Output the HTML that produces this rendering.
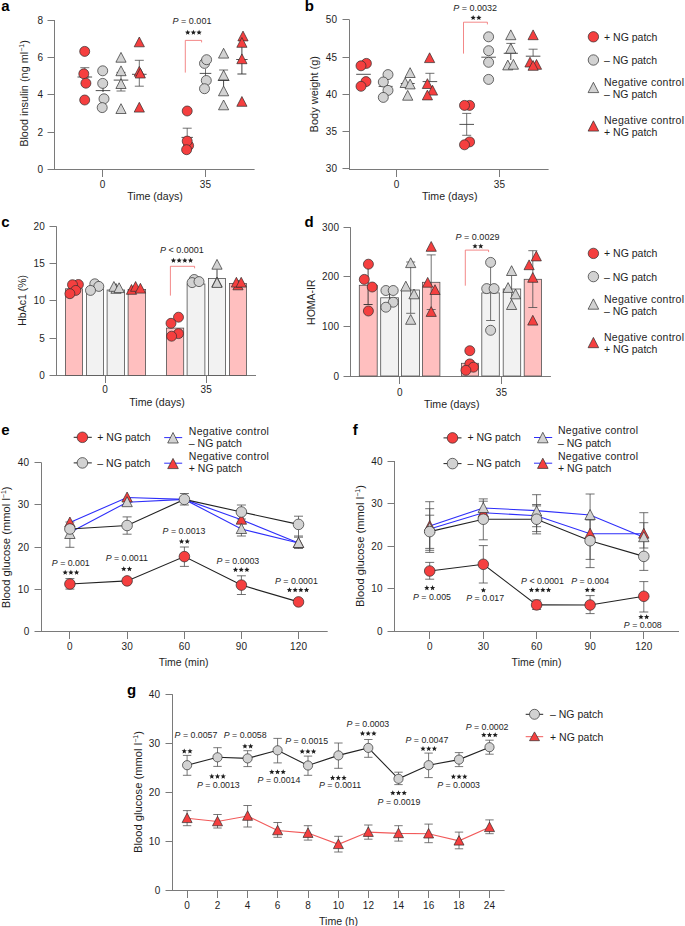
<!DOCTYPE html>
<html><head><meta charset="utf-8"><style>
html,body{margin:0;padding:0;background:#fff;}
svg{display:block;}
</style></head><body>
<svg width="685" height="926" viewBox="0 0 685 926">
<rect width="685" height="926" fill="#fff"/>
<text x="1.2" y="11.2" font-family="Liberation Sans" font-size="15.0" text-anchor="start" fill="#000" font-weight="bold" >a</text>
<line x1="54.5" y1="20.0" x2="54.5" y2="170.0" stroke="#7a7a7a" stroke-width="1.0"/>
<line x1="47.5" y1="20.5" x2="54.5" y2="20.5" stroke="#7a7a7a" stroke-width="1.0"/>
<text x="43.2" y="23.6" font-family="Liberation Sans" font-size="10.0" text-anchor="end" fill="#1e1e1e" font-weight="normal" letter-spacing="0.2">8</text>
<line x1="47.5" y1="57.5" x2="54.5" y2="57.5" stroke="#7a7a7a" stroke-width="1.0"/>
<text x="43.2" y="60.8" font-family="Liberation Sans" font-size="10.0" text-anchor="end" fill="#1e1e1e" font-weight="normal" letter-spacing="0.2">6</text>
<line x1="47.5" y1="94.5" x2="54.5" y2="94.5" stroke="#7a7a7a" stroke-width="1.0"/>
<text x="43.2" y="98.3" font-family="Liberation Sans" font-size="10.0" text-anchor="end" fill="#1e1e1e" font-weight="normal" letter-spacing="0.2">4</text>
<line x1="47.5" y1="132.5" x2="54.5" y2="132.5" stroke="#7a7a7a" stroke-width="1.0"/>
<text x="43.2" y="135.9" font-family="Liberation Sans" font-size="10.0" text-anchor="end" fill="#1e1e1e" font-weight="normal" letter-spacing="0.2">2</text>
<line x1="47.5" y1="169.5" x2="54.5" y2="169.5" stroke="#7a7a7a" stroke-width="1.0"/>
<text x="43.2" y="172.9" font-family="Liberation Sans" font-size="10.0" text-anchor="end" fill="#1e1e1e" font-weight="normal" letter-spacing="0.2">0</text>
<line x1="54.0" y1="169.5" x2="254.6" y2="169.5" stroke="#7a7a7a" stroke-width="1.0"/>
<line x1="102.5" y1="169.5" x2="102.5" y2="177.0" stroke="#7a7a7a" stroke-width="1.0"/>
<text x="102.7" y="188.0" font-family="Liberation Sans" font-size="10.0" text-anchor="middle" fill="#1e1e1e" font-weight="normal" letter-spacing="0.2">0</text>
<line x1="205.5" y1="169.5" x2="205.5" y2="177.0" stroke="#7a7a7a" stroke-width="1.0"/>
<text x="205.5" y="188.0" font-family="Liberation Sans" font-size="10.0" text-anchor="middle" fill="#1e1e1e" font-weight="normal" letter-spacing="0.2">35</text>
<text x="155.0" y="200.0" font-family="Liberation Sans" font-size="10.6" text-anchor="middle" fill="#1e1e1e" font-weight="normal" >Time (days)</text>
<text transform="translate(28.3,93.5) rotate(-90)" font-family="Liberation Sans" font-size="10.9" text-anchor="middle" fill="#1e1e1e">Blood insulin (ng ml<tspan font-size='7' dy='-4'>−1</tspan><tspan dy='4'>)</tspan></text>
<line x1="84.8" y1="67.7" x2="84.8" y2="77.0" stroke="#4d4d4d" stroke-width="0.8"/>
<line x1="80.3" y1="67.7" x2="89.3" y2="67.7" stroke="#4d4d4d" stroke-width="0.8"/>
<line x1="80.3" y1="77.0" x2="89.3" y2="77.0" stroke="#4d4d4d" stroke-width="0.8"/>
<line x1="77.5" y1="77.0" x2="92.1" y2="77.0" stroke="#3d3d3d" stroke-width="0.9"/>
<circle cx="84.7" cy="51.4" r="5.0" fill="#f53f3f" stroke="#2e2e2e" stroke-width="0.7"/>
<circle cx="84.7" cy="100.0" r="5.0" fill="#f53f3f" stroke="#2e2e2e" stroke-width="0.7"/>
<circle cx="83.8" cy="73.8" r="5.0" fill="#f53f3f" stroke="#2e2e2e" stroke-width="0.7"/>
<circle cx="85.9" cy="83.2" r="5.0" fill="#f53f3f" stroke="#2e2e2e" stroke-width="0.7"/>
<line x1="95.7" y1="90.6" x2="110.3" y2="90.6" stroke="#3d3d3d" stroke-width="0.9"/>
<line x1="103.0" y1="88.0" x2="103.0" y2="92.0" stroke="#2e2e2e" stroke-width="0.9"/>
<circle cx="102.7" cy="70.8" r="5.0" fill="#d2d2d2" stroke="#2e2e2e" stroke-width="0.7"/>
<circle cx="102.7" cy="83.4" r="5.0" fill="#d2d2d2" stroke="#2e2e2e" stroke-width="0.7"/>
<circle cx="104.0" cy="98.8" r="5.0" fill="#d2d2d2" stroke="#2e2e2e" stroke-width="0.7"/>
<circle cx="102.2" cy="107.6" r="5.0" fill="#d2d2d2" stroke="#2e2e2e" stroke-width="0.7"/>
<line x1="121.0" y1="72.4" x2="121.0" y2="91.0" stroke="#4d4d4d" stroke-width="0.8"/>
<line x1="116.5" y1="72.4" x2="125.5" y2="72.4" stroke="#4d4d4d" stroke-width="0.8"/>
<line x1="116.5" y1="91.0" x2="125.5" y2="91.0" stroke="#4d4d4d" stroke-width="0.8"/>
<line x1="113.7" y1="80.1" x2="128.3" y2="80.1" stroke="#3d3d3d" stroke-width="0.9"/>
<polygon points="121.0,52.4 115.9,62.2 126.1,62.2" fill="#d2d2d2" stroke="#2e2e2e" stroke-width="0.7" stroke-linejoin="miter"/>
<polygon points="121.0,65.9 115.9,75.7 126.1,75.7" fill="#d2d2d2" stroke="#2e2e2e" stroke-width="0.7" stroke-linejoin="miter"/>
<polygon points="121.0,78.7 115.9,88.5 126.1,88.5" fill="#d2d2d2" stroke="#2e2e2e" stroke-width="0.7" stroke-linejoin="miter"/>
<polygon points="121.0,103.7 115.9,113.5 126.1,113.5" fill="#d2d2d2" stroke="#2e2e2e" stroke-width="0.7" stroke-linejoin="miter"/>
<line x1="139.3" y1="60.3" x2="139.3" y2="86.2" stroke="#4d4d4d" stroke-width="0.8"/>
<line x1="134.8" y1="60.3" x2="143.8" y2="60.3" stroke="#4d4d4d" stroke-width="0.8"/>
<line x1="134.8" y1="86.2" x2="143.8" y2="86.2" stroke="#4d4d4d" stroke-width="0.8"/>
<line x1="132.0" y1="74.3" x2="146.6" y2="74.3" stroke="#3d3d3d" stroke-width="0.9"/>
<polygon points="139.3,37.0 134.2,46.8 144.4,46.8" fill="#f53f3f" stroke="#2e2e2e" stroke-width="0.7" stroke-linejoin="miter"/>
<polygon points="139.3,66.4 134.2,76.2 144.4,76.2" fill="#f53f3f" stroke="#2e2e2e" stroke-width="0.7" stroke-linejoin="miter"/>
<polygon points="140.3,68.2 135.2,78.0 145.4,78.0" fill="#f53f3f" stroke="#2e2e2e" stroke-width="0.7" stroke-linejoin="miter"/>
<polygon points="139.3,102.3 134.2,112.1 144.4,112.1" fill="#f53f3f" stroke="#2e2e2e" stroke-width="0.7" stroke-linejoin="miter"/>
<line x1="187.2" y1="137.4" x2="187.2" y2="128.2" stroke="#4d4d4d" stroke-width="0.8"/>
<line x1="182.7" y1="128.2" x2="191.7" y2="128.2" stroke="#4d4d4d" stroke-width="0.8"/>
<line x1="181.5" y1="137.4" x2="192.9" y2="137.4" stroke="#3d3d3d" stroke-width="0.9"/>
<circle cx="187.2" cy="111.0" r="5.0" fill="#f53f3f" stroke="#2e2e2e" stroke-width="0.7"/>
<circle cx="188.6" cy="145.6" r="5.0" fill="#f53f3f" stroke="#2e2e2e" stroke-width="0.7"/>
<circle cx="187.2" cy="141.1" r="5.0" fill="#f53f3f" stroke="#2e2e2e" stroke-width="0.7"/>
<circle cx="186.6" cy="149.7" r="5.0" fill="#f53f3f" stroke="#2e2e2e" stroke-width="0.7"/>
<line x1="205.5" y1="69.0" x2="205.5" y2="77.0" stroke="#4d4d4d" stroke-width="0.8"/>
<line x1="205.5" y1="69.0" x2="205.5" y2="69.0" stroke="#4d4d4d" stroke-width="0.8"/>
<line x1="205.5" y1="77.0" x2="205.5" y2="77.0" stroke="#4d4d4d" stroke-width="0.8"/>
<line x1="199.7" y1="73.4" x2="211.3" y2="73.4" stroke="#3d3d3d" stroke-width="0.9"/>
<circle cx="204.5" cy="63.4" r="5.0" fill="#d2d2d2" stroke="#2e2e2e" stroke-width="0.7"/>
<circle cx="206.6" cy="59.7" r="5.0" fill="#d2d2d2" stroke="#2e2e2e" stroke-width="0.7"/>
<circle cx="206.3" cy="80.5" r="5.0" fill="#d2d2d2" stroke="#2e2e2e" stroke-width="0.7"/>
<circle cx="204.5" cy="88.7" r="5.0" fill="#d2d2d2" stroke="#2e2e2e" stroke-width="0.7"/>
<line x1="223.6" y1="80.5" x2="223.6" y2="70.0" stroke="#4d4d4d" stroke-width="0.8"/>
<line x1="219.1" y1="70.0" x2="228.1" y2="70.0" stroke="#4d4d4d" stroke-width="0.8"/>
<line x1="217.8" y1="80.5" x2="229.4" y2="80.5" stroke="#3d3d3d" stroke-width="0.9"/>
<line x1="223.6" y1="80.5" x2="223.6" y2="86.0" stroke="#2e2e2e" stroke-width="0.9"/>
<polygon points="223.6,48.3 218.5,58.1 228.7,58.1" fill="#d2d2d2" stroke="#2e2e2e" stroke-width="0.7" stroke-linejoin="miter"/>
<polygon points="223.6,70.2 218.5,80.0 228.7,80.0" fill="#d2d2d2" stroke="#2e2e2e" stroke-width="0.7" stroke-linejoin="miter"/>
<polygon points="223.6,86.0 218.5,95.8 228.7,95.8" fill="#d2d2d2" stroke="#2e2e2e" stroke-width="0.7" stroke-linejoin="miter"/>
<polygon points="223.6,100.0 218.5,109.8 228.7,109.8" fill="#d2d2d2" stroke="#2e2e2e" stroke-width="0.7" stroke-linejoin="miter"/>
<line x1="241.9" y1="47.1" x2="241.9" y2="74.0" stroke="#2e2e2e" stroke-width="0.9"/>
<line x1="237.4" y1="74.0" x2="246.4" y2="74.0" stroke="#2e2e2e" stroke-width="0.9"/>
<line x1="236.2" y1="59.5" x2="247.6" y2="59.5" stroke="#3d3d3d" stroke-width="0.9"/>
<polygon points="243.0,31.1 237.9,40.9 248.1,40.9" fill="#f53f3f" stroke="#2e2e2e" stroke-width="0.7" stroke-linejoin="miter"/>
<polygon points="241.9,37.5 236.8,47.3 247.0,47.3" fill="#f53f3f" stroke="#2e2e2e" stroke-width="0.7" stroke-linejoin="miter"/>
<polygon points="241.9,53.9 236.8,63.7 247.0,63.7" fill="#f53f3f" stroke="#2e2e2e" stroke-width="0.7" stroke-linejoin="miter"/>
<polygon points="241.9,96.5 236.8,106.3 247.0,106.3" fill="#f53f3f" stroke="#2e2e2e" stroke-width="0.7" stroke-linejoin="miter"/>
<polyline points="185.3,72.6 185.3,40.4 201.6,40.4 201.6,42.4" fill="none" stroke="#f06a6a" stroke-width="0.8"/>
<polygon points="187.70,29.80 188.43,31.59 190.36,31.73 188.89,32.99 189.35,34.87 187.70,33.85 186.05,34.87 186.51,32.99 185.04,31.73 186.97,31.59" fill="#1e1e1e"/>
<polygon points="193.40,29.80 194.13,31.59 196.06,31.73 194.59,32.99 195.05,34.87 193.40,33.85 191.75,34.87 192.21,32.99 190.74,31.73 192.67,31.59" fill="#1e1e1e"/>
<polygon points="199.10,29.80 199.83,31.59 201.76,31.73 200.29,32.99 200.75,34.87 199.10,33.85 197.45,34.87 197.91,32.99 196.44,31.73 198.37,31.59" fill="#1e1e1e"/>
<text x="192.0" y="24.0" font-family="Liberation Sans" font-size="9.0" text-anchor="middle" fill="#1e1e1e"><tspan font-style="italic">P</tspan> = 0.001</text>
<text x="304.8" y="11.3" font-family="Liberation Sans" font-size="15.0" text-anchor="start" fill="#000" font-weight="bold" >b</text>
<line x1="349.5" y1="19.7" x2="349.5" y2="170.0" stroke="#7a7a7a" stroke-width="1.0"/>
<line x1="342.5" y1="19.5" x2="349.5" y2="19.5" stroke="#7a7a7a" stroke-width="1.0"/>
<text x="337.4" y="23.2" font-family="Liberation Sans" font-size="10.0" text-anchor="end" fill="#1e1e1e" font-weight="normal" letter-spacing="0.2">50</text>
<line x1="342.5" y1="57.5" x2="349.5" y2="57.5" stroke="#7a7a7a" stroke-width="1.0"/>
<text x="337.4" y="60.5" font-family="Liberation Sans" font-size="10.0" text-anchor="end" fill="#1e1e1e" font-weight="normal" letter-spacing="0.2">45</text>
<line x1="342.5" y1="94.5" x2="349.5" y2="94.5" stroke="#7a7a7a" stroke-width="1.0"/>
<text x="337.4" y="97.5" font-family="Liberation Sans" font-size="10.0" text-anchor="end" fill="#1e1e1e" font-weight="normal" letter-spacing="0.2">40</text>
<line x1="342.5" y1="131.5" x2="349.5" y2="131.5" stroke="#7a7a7a" stroke-width="1.0"/>
<text x="337.4" y="134.9" font-family="Liberation Sans" font-size="10.0" text-anchor="end" fill="#1e1e1e" font-weight="normal" letter-spacing="0.2">35</text>
<line x1="342.5" y1="168.5" x2="349.5" y2="168.5" stroke="#7a7a7a" stroke-width="1.0"/>
<text x="337.4" y="172.3" font-family="Liberation Sans" font-size="10.0" text-anchor="end" fill="#1e1e1e" font-weight="normal" letter-spacing="0.2">30</text>
<line x1="349.0" y1="169.5" x2="548.6" y2="169.5" stroke="#7a7a7a" stroke-width="1.0"/>
<line x1="396.5" y1="169.5" x2="396.5" y2="177.0" stroke="#7a7a7a" stroke-width="1.0"/>
<text x="396.7" y="187.5" font-family="Liberation Sans" font-size="10.0" text-anchor="middle" fill="#1e1e1e" font-weight="normal" letter-spacing="0.2">0</text>
<line x1="499.5" y1="169.5" x2="499.5" y2="177.0" stroke="#7a7a7a" stroke-width="1.0"/>
<text x="499.4" y="187.5" font-family="Liberation Sans" font-size="10.0" text-anchor="middle" fill="#1e1e1e" font-weight="normal" letter-spacing="0.2">35</text>
<text x="449.7" y="200.0" font-family="Liberation Sans" font-size="10.6" text-anchor="middle" fill="#1e1e1e" font-weight="normal" >Time (days)</text>
<text transform="translate(318.0,94.2) rotate(-90)" font-family="Liberation Sans" font-size="11.0" text-anchor="middle" fill="#1e1e1e">Body weight (g)</text>
<line x1="356.2" y1="74.3" x2="370.8" y2="74.3" stroke="#3d3d3d" stroke-width="0.9"/>
<circle cx="366.4" cy="63.4" r="5.0" fill="#f53f3f" stroke="#2e2e2e" stroke-width="0.7"/>
<circle cx="361.0" cy="65.8" r="5.0" fill="#f53f3f" stroke="#2e2e2e" stroke-width="0.7"/>
<circle cx="366.0" cy="81.6" r="5.0" fill="#f53f3f" stroke="#2e2e2e" stroke-width="0.7"/>
<circle cx="361.0" cy="86.3" r="5.0" fill="#f53f3f" stroke="#2e2e2e" stroke-width="0.7"/>
<line x1="378.6" y1="86.4" x2="392.6" y2="86.4" stroke="#3d3d3d" stroke-width="0.9"/>
<circle cx="388.0" cy="74.6" r="5.0" fill="#d2d2d2" stroke="#2e2e2e" stroke-width="0.7"/>
<circle cx="383.3" cy="82.0" r="5.0" fill="#d2d2d2" stroke="#2e2e2e" stroke-width="0.7"/>
<circle cx="388.0" cy="90.4" r="5.0" fill="#d2d2d2" stroke="#2e2e2e" stroke-width="0.7"/>
<circle cx="383.3" cy="97.4" r="5.0" fill="#d2d2d2" stroke="#2e2e2e" stroke-width="0.7"/>
<line x1="400.7" y1="83.5" x2="414.7" y2="83.5" stroke="#3d3d3d" stroke-width="0.9"/>
<polygon points="410.1,67.7 405.0,77.5 415.2,77.5" fill="#d2d2d2" stroke="#2e2e2e" stroke-width="0.7" stroke-linejoin="miter"/>
<polygon points="405.2,77.7 400.1,87.5 410.3,87.5" fill="#d2d2d2" stroke="#2e2e2e" stroke-width="0.7" stroke-linejoin="miter"/>
<polygon points="410.1,79.1 405.0,88.9 415.2,88.9" fill="#d2d2d2" stroke="#2e2e2e" stroke-width="0.7" stroke-linejoin="miter"/>
<polygon points="407.7,90.4 402.6,100.2 412.8,100.2" fill="#d2d2d2" stroke="#2e2e2e" stroke-width="0.7" stroke-linejoin="miter"/>
<line x1="429.9" y1="81.6" x2="429.9" y2="73.3" stroke="#4d4d4d" stroke-width="0.8"/>
<line x1="425.4" y1="73.3" x2="434.4" y2="73.3" stroke="#4d4d4d" stroke-width="0.8"/>
<line x1="422.6" y1="81.6" x2="437.2" y2="81.6" stroke="#3d3d3d" stroke-width="0.9"/>
<polygon points="429.6,52.8 424.5,62.6 434.7,62.6" fill="#f53f3f" stroke="#2e2e2e" stroke-width="0.7" stroke-linejoin="miter"/>
<polygon points="427.4,78.7 422.3,88.5 432.5,88.5" fill="#f53f3f" stroke="#2e2e2e" stroke-width="0.7" stroke-linejoin="miter"/>
<polygon points="432.5,85.3 427.4,95.1 437.6,95.1" fill="#f53f3f" stroke="#2e2e2e" stroke-width="0.7" stroke-linejoin="miter"/>
<polygon points="427.4,90.1 422.3,99.9 432.5,99.9" fill="#f53f3f" stroke="#2e2e2e" stroke-width="0.7" stroke-linejoin="miter"/>
<line x1="466.7" y1="113.4" x2="466.7" y2="135.3" stroke="#4d4d4d" stroke-width="0.8"/>
<line x1="462.2" y1="113.4" x2="471.2" y2="113.4" stroke="#4d4d4d" stroke-width="0.8"/>
<line x1="462.2" y1="135.3" x2="471.2" y2="135.3" stroke="#4d4d4d" stroke-width="0.8"/>
<line x1="459.4" y1="124.4" x2="474.0" y2="124.4" stroke="#3d3d3d" stroke-width="0.9"/>
<circle cx="469.6" cy="105.4" r="5.0" fill="#f53f3f" stroke="#2e2e2e" stroke-width="0.7"/>
<circle cx="464.5" cy="105.4" r="5.0" fill="#f53f3f" stroke="#2e2e2e" stroke-width="0.7"/>
<circle cx="469.6" cy="141.9" r="5.0" fill="#f53f3f" stroke="#2e2e2e" stroke-width="0.7"/>
<circle cx="464.5" cy="144.8" r="5.0" fill="#f53f3f" stroke="#2e2e2e" stroke-width="0.7"/>
<line x1="481.3" y1="57.2" x2="495.9" y2="57.2" stroke="#3d3d3d" stroke-width="0.9"/>
<circle cx="488.6" cy="36.8" r="5.0" fill="#d2d2d2" stroke="#2e2e2e" stroke-width="0.7"/>
<circle cx="488.6" cy="50.7" r="5.0" fill="#d2d2d2" stroke="#2e2e2e" stroke-width="0.7"/>
<circle cx="488.6" cy="62.3" r="5.0" fill="#d2d2d2" stroke="#2e2e2e" stroke-width="0.7"/>
<circle cx="488.6" cy="79.4" r="5.0" fill="#d2d2d2" stroke="#2e2e2e" stroke-width="0.7"/>
<line x1="510.8" y1="53.3" x2="510.8" y2="43.4" stroke="#4d4d4d" stroke-width="0.8"/>
<line x1="506.3" y1="43.4" x2="515.3" y2="43.4" stroke="#4d4d4d" stroke-width="0.8"/>
<line x1="510.8" y1="53.3" x2="510.8" y2="60.0" stroke="#2e2e2e" stroke-width="0.9"/>
<line x1="503.7" y1="53.3" x2="517.9" y2="53.3" stroke="#3d3d3d" stroke-width="0.9"/>
<polygon points="510.8,29.9 505.7,39.7 515.9,39.7" fill="#d2d2d2" stroke="#2e2e2e" stroke-width="0.7" stroke-linejoin="miter"/>
<polygon points="510.8,43.4 505.7,53.2 515.9,53.2" fill="#d2d2d2" stroke="#2e2e2e" stroke-width="0.7" stroke-linejoin="miter"/>
<polygon points="507.8,60.1 502.7,69.9 512.9,69.9" fill="#d2d2d2" stroke="#2e2e2e" stroke-width="0.7" stroke-linejoin="miter"/>
<polygon points="513.4,59.4 508.3,69.2 518.5,69.2" fill="#d2d2d2" stroke="#2e2e2e" stroke-width="0.7" stroke-linejoin="miter"/>
<line x1="533.1" y1="56.2" x2="533.1" y2="49.2" stroke="#4d4d4d" stroke-width="0.8"/>
<line x1="528.6" y1="49.2" x2="537.6" y2="49.2" stroke="#4d4d4d" stroke-width="0.8"/>
<line x1="525.8" y1="56.2" x2="540.4" y2="56.2" stroke="#3d3d3d" stroke-width="0.9"/>
<polygon points="533.1,29.9 528.0,39.7 538.2,39.7" fill="#f53f3f" stroke="#2e2e2e" stroke-width="0.7" stroke-linejoin="miter"/>
<polygon points="530.0,57.2 524.9,67.0 535.1,67.0" fill="#f53f3f" stroke="#2e2e2e" stroke-width="0.7" stroke-linejoin="miter"/>
<polygon points="536.5,59.5 531.4,69.3 541.6,69.3" fill="#f53f3f" stroke="#2e2e2e" stroke-width="0.7" stroke-linejoin="miter"/>
<polygon points="533.1,60.5 528.0,70.3 538.2,70.3" fill="#f53f3f" stroke="#2e2e2e" stroke-width="0.7" stroke-linejoin="miter"/>
<polyline points="463.5,53.6 463.5,22.2 487.4,22.2 487.4,24.4" fill="none" stroke="#f06a6a" stroke-width="0.8"/>
<polygon points="473.15,15.00 473.88,16.79 475.81,16.93 474.34,18.19 474.80,20.07 473.15,19.05 471.50,20.07 471.96,18.19 470.49,16.93 472.42,16.79" fill="#1e1e1e"/>
<polygon points="478.85,15.00 479.58,16.79 481.51,16.93 480.04,18.19 480.50,20.07 478.85,19.05 477.20,20.07 477.66,18.19 476.19,16.93 478.12,16.79" fill="#1e1e1e"/>
<text x="475.2" y="10.8" font-family="Liberation Sans" font-size="9.0" text-anchor="middle" fill="#1e1e1e"><tspan font-style="italic">P</tspan> = 0.0032</text>
<circle cx="593.4" cy="36.8" r="5.2" fill="#f53f3f" stroke="#2e2e2e" stroke-width="0.7"/>
<text x="604.0" y="40.6" font-family="Liberation Sans" font-size="10.5" text-anchor="start" fill="#1e1e1e" font-weight="normal" >+ NG patch</text>
<circle cx="593.4" cy="60.0" r="5.2" fill="#d2d2d2" stroke="#2e2e2e" stroke-width="0.7"/>
<text x="604.0" y="64.0" font-family="Liberation Sans" font-size="10.5" text-anchor="start" fill="#1e1e1e" font-weight="normal" >– NG patch</text>
<polygon points="593.4,82.3 588.1,92.6 598.7,92.6" fill="#d2d2d2" stroke="#2e2e2e" stroke-width="0.7" stroke-linejoin="miter"/>
<text x="604.0" y="86.0" font-family="Liberation Sans" font-size="10.5" text-anchor="start" fill="#1e1e1e" font-weight="normal"  letter-spacing="0.28">Negative control</text>
<text x="604.0" y="98.0" font-family="Liberation Sans" font-size="10.5" text-anchor="start" fill="#1e1e1e" font-weight="normal" >– NG patch</text>
<polygon points="593.4,120.8 588.1,131.1 598.7,131.1" fill="#f53f3f" stroke="#2e2e2e" stroke-width="0.7" stroke-linejoin="miter"/>
<text x="604.0" y="124.4" font-family="Liberation Sans" font-size="10.5" text-anchor="start" fill="#1e1e1e" font-weight="normal"  letter-spacing="0.28">Negative control</text>
<text x="604.0" y="136.4" font-family="Liberation Sans" font-size="10.5" text-anchor="start" fill="#1e1e1e" font-weight="normal" >+ NG patch</text>
<text x="1.2" y="227.2" font-family="Liberation Sans" font-size="15.0" text-anchor="start" fill="#000" font-weight="bold" >c</text>
<line x1="56.5" y1="226.3" x2="56.5" y2="376.0" stroke="#7a7a7a" stroke-width="1.0"/>
<line x1="49.5" y1="226.5" x2="56.5" y2="226.5" stroke="#7a7a7a" stroke-width="1.0"/>
<text x="45.0" y="229.8" font-family="Liberation Sans" font-size="10.0" text-anchor="end" fill="#1e1e1e" font-weight="normal" letter-spacing="0.2">20</text>
<line x1="49.5" y1="263.5" x2="56.5" y2="263.5" stroke="#7a7a7a" stroke-width="1.0"/>
<text x="45.0" y="267.1" font-family="Liberation Sans" font-size="10.0" text-anchor="end" fill="#1e1e1e" font-weight="normal" letter-spacing="0.2">15</text>
<line x1="49.5" y1="300.5" x2="56.5" y2="300.5" stroke="#7a7a7a" stroke-width="1.0"/>
<text x="45.0" y="304.3" font-family="Liberation Sans" font-size="10.0" text-anchor="end" fill="#1e1e1e" font-weight="normal" letter-spacing="0.2">10</text>
<line x1="49.5" y1="338.5" x2="56.5" y2="338.5" stroke="#7a7a7a" stroke-width="1.0"/>
<text x="45.0" y="341.6" font-family="Liberation Sans" font-size="10.0" text-anchor="end" fill="#1e1e1e" font-weight="normal" letter-spacing="0.2">5</text>
<line x1="49.5" y1="375.5" x2="56.5" y2="375.5" stroke="#7a7a7a" stroke-width="1.0"/>
<text x="45.0" y="378.9" font-family="Liberation Sans" font-size="10.0" text-anchor="end" fill="#1e1e1e" font-weight="normal" letter-spacing="0.2">0</text>
<line x1="56.0" y1="375.5" x2="256.0" y2="375.5" stroke="#7a7a7a" stroke-width="1.0"/>
<line x1="105.5" y1="375.5" x2="105.5" y2="383.0" stroke="#7a7a7a" stroke-width="1.0"/>
<text x="105.1" y="393.2" font-family="Liberation Sans" font-size="10.0" text-anchor="middle" fill="#1e1e1e" font-weight="normal" letter-spacing="0.2">0</text>
<line x1="206.5" y1="375.5" x2="206.5" y2="383.0" stroke="#7a7a7a" stroke-width="1.0"/>
<text x="206.3" y="393.2" font-family="Liberation Sans" font-size="10.0" text-anchor="middle" fill="#1e1e1e" font-weight="normal" letter-spacing="0.2">35</text>
<text x="157.0" y="406.3" font-family="Liberation Sans" font-size="10.6" text-anchor="middle" fill="#1e1e1e" font-weight="normal" >Time (days)</text>
<text transform="translate(26.0,300.4) rotate(-90)" font-family="Liberation Sans" font-size="10.5" text-anchor="middle" fill="#1e1e1e">HbAc1 (%)</text>
<rect x="65.4" y="288.8" width="17.0" height="86.6" fill="#ffbfbf" stroke="#505050" stroke-width="0.8"/>
<rect x="86.4" y="289.0" width="17.0" height="86.4" fill="#f2f2f2" stroke="#505050" stroke-width="0.8"/>
<rect x="107.1" y="290.0" width="17.5" height="85.4" fill="#f2f2f2" stroke="#505050" stroke-width="0.8"/>
<rect x="128.1" y="289.5" width="17.5" height="85.9" fill="#ffbfbf" stroke="#505050" stroke-width="0.8"/>
<circle cx="78.4" cy="284.5" r="5.0" fill="#f53f3f" stroke="#2e2e2e" stroke-width="0.7"/>
<circle cx="72.5" cy="284.7" r="5.0" fill="#f53f3f" stroke="#2e2e2e" stroke-width="0.7"/>
<circle cx="75.8" cy="290.4" r="5.0" fill="#f53f3f" stroke="#2e2e2e" stroke-width="0.7"/>
<circle cx="69.9" cy="293.7" r="5.0" fill="#f53f3f" stroke="#2e2e2e" stroke-width="0.7"/>
<circle cx="94.8" cy="283.8" r="5.0" fill="#d2d2d2" stroke="#2e2e2e" stroke-width="0.7"/>
<circle cx="98.8" cy="286.4" r="5.0" fill="#d2d2d2" stroke="#2e2e2e" stroke-width="0.7"/>
<circle cx="90.5" cy="290.4" r="5.0" fill="#d2d2d2" stroke="#2e2e2e" stroke-width="0.7"/>
<polygon points="116.0,283.5 110.9,293.3 121.1,293.3" fill="#d2d2d2" stroke="#2e2e2e" stroke-width="0.7" stroke-linejoin="miter"/>
<polygon points="113.9,281.5 108.8,291.3 119.0,291.3" fill="#d2d2d2" stroke="#2e2e2e" stroke-width="0.7" stroke-linejoin="miter"/>
<polygon points="119.1,282.8 114.0,292.6 124.2,292.6" fill="#d2d2d2" stroke="#2e2e2e" stroke-width="0.7" stroke-linejoin="miter"/>
<polygon points="131.5,284.5 126.4,294.3 136.6,294.3" fill="#f53f3f" stroke="#2e2e2e" stroke-width="0.7" stroke-linejoin="miter"/>
<polygon points="135.6,281.5 130.5,291.3 140.7,291.3" fill="#f53f3f" stroke="#2e2e2e" stroke-width="0.7" stroke-linejoin="miter"/>
<polygon points="140.4,283.3 135.3,293.1 145.5,293.1" fill="#f53f3f" stroke="#2e2e2e" stroke-width="0.7" stroke-linejoin="miter"/>
<rect x="166.4" y="328.1" width="17.3" height="47.3" fill="#ffbfbf" stroke="#505050" stroke-width="0.8"/>
<rect x="187.1" y="284.0" width="17.8" height="91.4" fill="#f2f2f2" stroke="#505050" stroke-width="0.8"/>
<rect x="208.4" y="278.4" width="17.2" height="97.0" fill="#f2f2f2" stroke="#505050" stroke-width="0.8"/>
<rect x="229.4" y="283.5" width="17.0" height="91.9" fill="#ffbfbf" stroke="#505050" stroke-width="0.8"/>
<circle cx="178.5" cy="317.2" r="5.0" fill="#f53f3f" stroke="#2e2e2e" stroke-width="0.7"/>
<circle cx="171.0" cy="323.3" r="5.0" fill="#f53f3f" stroke="#2e2e2e" stroke-width="0.7"/>
<circle cx="178.5" cy="333.6" r="5.0" fill="#f53f3f" stroke="#2e2e2e" stroke-width="0.7"/>
<circle cx="171.6" cy="336.2" r="5.0" fill="#f53f3f" stroke="#2e2e2e" stroke-width="0.7"/>
<circle cx="194.2" cy="279.5" r="5.0" fill="#d2d2d2" stroke="#2e2e2e" stroke-width="0.7"/>
<circle cx="192.1" cy="282.6" r="5.0" fill="#d2d2d2" stroke="#2e2e2e" stroke-width="0.7"/>
<circle cx="199.0" cy="281.6" r="5.0" fill="#d2d2d2" stroke="#2e2e2e" stroke-width="0.7"/>
<line x1="217.0" y1="269.4" x2="217.0" y2="278.4" stroke="#2e2e2e" stroke-width="0.9"/>
<polygon points="217.0,259.4 211.9,269.2 222.1,269.2" fill="#d2d2d2" stroke="#2e2e2e" stroke-width="0.7" stroke-linejoin="miter"/>
<polygon points="217.0,277.0 211.9,286.8 222.1,286.8" fill="#d2d2d2" stroke="#2e2e2e" stroke-width="0.7" stroke-linejoin="miter"/>
<polygon points="217.0,277.6 211.9,287.4 222.1,287.4" fill="#d2d2d2" stroke="#2e2e2e" stroke-width="0.7" stroke-linejoin="miter"/>
<polygon points="238.0,280.0 232.9,289.8 243.1,289.8" fill="#f53f3f" stroke="#2e2e2e" stroke-width="0.7" stroke-linejoin="miter"/>
<polygon points="236.4,277.3 231.3,287.1 241.5,287.1" fill="#f53f3f" stroke="#2e2e2e" stroke-width="0.7" stroke-linejoin="miter"/>
<polygon points="241.2,277.3 236.1,287.1 246.3,287.1" fill="#f53f3f" stroke="#2e2e2e" stroke-width="0.7" stroke-linejoin="miter"/>
<polyline points="170.4,295.6 170.4,266.3 194.6,266.3 194.6,268.3" fill="none" stroke="#f06a6a" stroke-width="0.8"/>
<polygon points="173.45,257.70 174.18,259.49 176.11,259.63 174.64,260.89 175.10,262.77 173.45,261.75 171.80,262.77 172.26,260.89 170.79,259.63 172.72,259.49" fill="#1e1e1e"/>
<polygon points="179.15,257.70 179.88,259.49 181.81,259.63 180.34,260.89 180.80,262.77 179.15,261.75 177.50,262.77 177.96,260.89 176.49,259.63 178.42,259.49" fill="#1e1e1e"/>
<polygon points="184.85,257.70 185.58,259.49 187.51,259.63 186.04,260.89 186.50,262.77 184.85,261.75 183.20,262.77 183.66,260.89 182.19,259.63 184.12,259.49" fill="#1e1e1e"/>
<polygon points="190.55,257.70 191.28,259.49 193.21,259.63 191.74,260.89 192.20,262.77 190.55,261.75 188.90,262.77 189.36,260.89 187.89,259.63 189.82,259.49" fill="#1e1e1e"/>
<text x="181.8" y="252.8" font-family="Liberation Sans" font-size="9.0" text-anchor="middle" fill="#1e1e1e"><tspan font-style="italic">P</tspan> &lt; 0.0001</text>
<text x="304.5" y="227.0" font-family="Liberation Sans" font-size="15.0" text-anchor="start" fill="#000" font-weight="bold" >d</text>
<line x1="350.5" y1="227.2" x2="350.5" y2="377.0" stroke="#7a7a7a" stroke-width="1.0"/>
<line x1="343.5" y1="227.5" x2="350.5" y2="227.5" stroke="#7a7a7a" stroke-width="1.0"/>
<text x="339.3" y="230.7" font-family="Liberation Sans" font-size="10.0" text-anchor="end" fill="#1e1e1e" font-weight="normal" letter-spacing="0.2">300</text>
<line x1="343.5" y1="276.5" x2="350.5" y2="276.5" stroke="#7a7a7a" stroke-width="1.0"/>
<text x="339.3" y="280.3" font-family="Liberation Sans" font-size="10.0" text-anchor="end" fill="#1e1e1e" font-weight="normal" letter-spacing="0.2">200</text>
<line x1="343.5" y1="326.5" x2="350.5" y2="326.5" stroke="#7a7a7a" stroke-width="1.0"/>
<text x="339.3" y="329.9" font-family="Liberation Sans" font-size="10.0" text-anchor="end" fill="#1e1e1e" font-weight="normal" letter-spacing="0.2">100</text>
<line x1="343.5" y1="376.5" x2="350.5" y2="376.5" stroke="#7a7a7a" stroke-width="1.0"/>
<text x="339.3" y="379.5" font-family="Liberation Sans" font-size="10.0" text-anchor="end" fill="#1e1e1e" font-weight="normal" letter-spacing="0.2">0</text>
<line x1="350.0" y1="376.5" x2="550.9" y2="376.5" stroke="#7a7a7a" stroke-width="1.0"/>
<line x1="399.5" y1="376.5" x2="399.5" y2="384.0" stroke="#7a7a7a" stroke-width="1.0"/>
<text x="400.0" y="395.5" font-family="Liberation Sans" font-size="10.0" text-anchor="middle" fill="#1e1e1e" font-weight="normal" letter-spacing="0.2">0</text>
<line x1="501.5" y1="376.5" x2="501.5" y2="384.0" stroke="#7a7a7a" stroke-width="1.0"/>
<text x="501.4" y="395.5" font-family="Liberation Sans" font-size="10.0" text-anchor="middle" fill="#1e1e1e" font-weight="normal" letter-spacing="0.2">35</text>
<text x="451.7" y="408.3" font-family="Liberation Sans" font-size="10.6" text-anchor="middle" fill="#1e1e1e" font-weight="normal" >Time (days)</text>
<text transform="translate(314.5,302.2) rotate(-90)" font-family="Liberation Sans" font-size="10.5" text-anchor="middle" fill="#1e1e1e">HOMA-IR</text>
<rect x="359.3" y="285.3" width="17.9" height="90.7" fill="#ffbfbf" stroke="#505050" stroke-width="0.8"/>
<rect x="380.7" y="297.8" width="17.8" height="78.2" fill="#f2f2f2" stroke="#505050" stroke-width="0.8"/>
<rect x="401.4" y="290.0" width="18.1" height="86.0" fill="#f2f2f2" stroke="#505050" stroke-width="0.8"/>
<rect x="422.4" y="282.3" width="17.5" height="93.7" fill="#ffbfbf" stroke="#505050" stroke-width="0.8"/>
<line x1="368.1" y1="266.0" x2="368.1" y2="304.5" stroke="#2e2e2e" stroke-width="0.9"/>
<line x1="363.6" y1="304.5" x2="372.6" y2="304.5" stroke="#2e2e2e" stroke-width="0.9"/>
<circle cx="368.4" cy="264.2" r="5.0" fill="#f53f3f" stroke="#2e2e2e" stroke-width="0.7"/>
<circle cx="364.3" cy="279.4" r="5.0" fill="#f53f3f" stroke="#2e2e2e" stroke-width="0.7"/>
<circle cx="372.2" cy="287.0" r="5.0" fill="#f53f3f" stroke="#2e2e2e" stroke-width="0.7"/>
<circle cx="368.4" cy="311.0" r="5.0" fill="#f53f3f" stroke="#2e2e2e" stroke-width="0.7"/>
<line x1="389.6" y1="290.0" x2="389.6" y2="307.0" stroke="#2e2e2e" stroke-width="0.9"/>
<circle cx="385.9" cy="290.5" r="5.0" fill="#d2d2d2" stroke="#2e2e2e" stroke-width="0.7"/>
<circle cx="393.2" cy="290.5" r="5.0" fill="#d2d2d2" stroke="#2e2e2e" stroke-width="0.7"/>
<circle cx="393.2" cy="302.2" r="5.0" fill="#d2d2d2" stroke="#2e2e2e" stroke-width="0.7"/>
<circle cx="385.9" cy="307.2" r="5.0" fill="#d2d2d2" stroke="#2e2e2e" stroke-width="0.7"/>
<line x1="410.7" y1="262.0" x2="410.7" y2="313.3" stroke="#4d4d4d" stroke-width="0.8"/>
<line x1="406.2" y1="262.0" x2="415.2" y2="262.0" stroke="#4d4d4d" stroke-width="0.8"/>
<line x1="406.2" y1="313.3" x2="415.2" y2="313.3" stroke="#4d4d4d" stroke-width="0.8"/>
<polygon points="410.7,257.8 405.6,267.6 415.8,267.6" fill="#d2d2d2" stroke="#2e2e2e" stroke-width="0.7" stroke-linejoin="miter"/>
<polygon points="405.8,281.2 400.7,291.0 410.9,291.0" fill="#d2d2d2" stroke="#2e2e2e" stroke-width="0.7" stroke-linejoin="miter"/>
<polygon points="414.0,289.0 408.9,298.8 419.1,298.8" fill="#d2d2d2" stroke="#2e2e2e" stroke-width="0.7" stroke-linejoin="miter"/>
<polygon points="410.7,314.5 405.6,324.3 415.8,324.3" fill="#d2d2d2" stroke="#2e2e2e" stroke-width="0.7" stroke-linejoin="miter"/>
<line x1="431.2" y1="254.9" x2="431.2" y2="309.5" stroke="#4d4d4d" stroke-width="0.8"/>
<line x1="426.7" y1="254.9" x2="435.7" y2="254.9" stroke="#4d4d4d" stroke-width="0.8"/>
<line x1="426.7" y1="309.5" x2="435.7" y2="309.5" stroke="#4d4d4d" stroke-width="0.8"/>
<polygon points="431.2,241.5 426.1,251.3 436.3,251.3" fill="#f53f3f" stroke="#2e2e2e" stroke-width="0.7" stroke-linejoin="miter"/>
<polygon points="427.7,277.4 422.6,287.2 432.8,287.2" fill="#f53f3f" stroke="#2e2e2e" stroke-width="0.7" stroke-linejoin="miter"/>
<polygon points="435.0,284.7 429.9,294.5 440.1,294.5" fill="#f53f3f" stroke="#2e2e2e" stroke-width="0.7" stroke-linejoin="miter"/>
<polygon points="431.2,306.6 426.1,316.4 436.3,316.4" fill="#f53f3f" stroke="#2e2e2e" stroke-width="0.7" stroke-linejoin="miter"/>
<rect x="461.4" y="363.3" width="17.1" height="12.7" fill="#ffbfbf" stroke="#505050" stroke-width="0.8"/>
<rect x="481.8" y="292.9" width="17.5" height="83.1" fill="#f2f2f2" stroke="#505050" stroke-width="0.8"/>
<rect x="503.2" y="289.0" width="17.5" height="87.0" fill="#f2f2f2" stroke="#505050" stroke-width="0.8"/>
<rect x="524.2" y="279.3" width="17.3" height="96.7" fill="#ffbfbf" stroke="#505050" stroke-width="0.8"/>
<circle cx="469.8" cy="350.7" r="5.0" fill="#f53f3f" stroke="#2e2e2e" stroke-width="0.7"/>
<circle cx="469.8" cy="363.9" r="5.0" fill="#f53f3f" stroke="#2e2e2e" stroke-width="0.7"/>
<circle cx="473.4" cy="367.2" r="5.0" fill="#f53f3f" stroke="#2e2e2e" stroke-width="0.7"/>
<circle cx="465.9" cy="370.3" r="5.0" fill="#f53f3f" stroke="#2e2e2e" stroke-width="0.7"/>
<line x1="490.6" y1="262.4" x2="490.6" y2="320.5" stroke="#4d4d4d" stroke-width="0.8"/>
<line x1="486.1" y1="262.4" x2="495.1" y2="262.4" stroke="#4d4d4d" stroke-width="0.8"/>
<line x1="486.1" y1="320.5" x2="495.1" y2="320.5" stroke="#4d4d4d" stroke-width="0.8"/>
<circle cx="490.6" cy="262.4" r="5.0" fill="#d2d2d2" stroke="#2e2e2e" stroke-width="0.7"/>
<circle cx="486.7" cy="288.6" r="5.0" fill="#d2d2d2" stroke="#2e2e2e" stroke-width="0.7"/>
<circle cx="494.1" cy="288.6" r="5.0" fill="#d2d2d2" stroke="#2e2e2e" stroke-width="0.7"/>
<circle cx="490.6" cy="330.3" r="5.0" fill="#d2d2d2" stroke="#2e2e2e" stroke-width="0.7"/>
<line x1="511.6" y1="276.0" x2="511.6" y2="300.0" stroke="#4d4d4d" stroke-width="0.8"/>
<line x1="511.6" y1="276.0" x2="511.6" y2="276.0" stroke="#4d4d4d" stroke-width="0.8"/>
<line x1="511.6" y1="300.0" x2="511.6" y2="300.0" stroke="#4d4d4d" stroke-width="0.8"/>
<polygon points="511.6,265.7 506.5,275.5 516.7,275.5" fill="#d2d2d2" stroke="#2e2e2e" stroke-width="0.7" stroke-linejoin="miter"/>
<polygon points="508.1,282.6 503.0,292.4 513.2,292.4" fill="#d2d2d2" stroke="#2e2e2e" stroke-width="0.7" stroke-linejoin="miter"/>
<polygon points="515.5,289.0 510.4,298.8 520.6,298.8" fill="#d2d2d2" stroke="#2e2e2e" stroke-width="0.7" stroke-linejoin="miter"/>
<polygon points="511.6,299.7 506.5,309.5 516.7,309.5" fill="#d2d2d2" stroke="#2e2e2e" stroke-width="0.7" stroke-linejoin="miter"/>
<line x1="532.8" y1="250.7" x2="532.8" y2="307.5" stroke="#4d4d4d" stroke-width="0.8"/>
<line x1="528.3" y1="250.7" x2="537.3" y2="250.7" stroke="#4d4d4d" stroke-width="0.8"/>
<line x1="528.3" y1="307.5" x2="537.3" y2="307.5" stroke="#4d4d4d" stroke-width="0.8"/>
<polygon points="536.3,251.1 531.2,260.9 541.4,260.9" fill="#f53f3f" stroke="#2e2e2e" stroke-width="0.7" stroke-linejoin="miter"/>
<polygon points="529.1,259.9 524.0,269.7 534.2,269.7" fill="#f53f3f" stroke="#2e2e2e" stroke-width="0.7" stroke-linejoin="miter"/>
<polygon points="532.8,272.5 527.7,282.3 537.9,282.3" fill="#f53f3f" stroke="#2e2e2e" stroke-width="0.7" stroke-linejoin="miter"/>
<polygon points="532.8,315.3 527.7,325.1 537.9,325.1" fill="#f53f3f" stroke="#2e2e2e" stroke-width="0.7" stroke-linejoin="miter"/>
<polyline points="465.3,285.7 465.3,250.1 488.6,250.1 488.6,252.1" fill="none" stroke="#f06a6a" stroke-width="0.8"/>
<polygon points="475.05,243.40 475.78,245.19 477.71,245.33 476.24,246.59 476.70,248.47 475.05,247.45 473.40,248.47 473.86,246.59 472.39,245.33 474.32,245.19" fill="#1e1e1e"/>
<polygon points="480.75,243.40 481.48,245.19 483.41,245.33 481.94,246.59 482.40,248.47 480.75,247.45 479.10,248.47 479.56,246.59 478.09,245.33 480.02,245.19" fill="#1e1e1e"/>
<text x="477.5" y="239.8" font-family="Liberation Sans" font-size="9.0" text-anchor="middle" fill="#1e1e1e"><tspan font-style="italic">P</tspan> = 0.0029</text>
<circle cx="593.4" cy="253.4" r="5.2" fill="#f53f3f" stroke="#2e2e2e" stroke-width="0.7"/>
<text x="604.0" y="257.2" font-family="Liberation Sans" font-size="10.5" text-anchor="start" fill="#1e1e1e" font-weight="normal" >+ NG patch</text>
<circle cx="593.4" cy="276.6" r="5.2" fill="#d2d2d2" stroke="#2e2e2e" stroke-width="0.7"/>
<text x="604.0" y="280.6" font-family="Liberation Sans" font-size="10.5" text-anchor="start" fill="#1e1e1e" font-weight="normal" >– NG patch</text>
<polygon points="593.4,298.9 588.1,309.2 598.7,309.2" fill="#d2d2d2" stroke="#2e2e2e" stroke-width="0.7" stroke-linejoin="miter"/>
<text x="604.0" y="302.6" font-family="Liberation Sans" font-size="10.5" text-anchor="start" fill="#1e1e1e" font-weight="normal"  letter-spacing="0.28">Negative control</text>
<text x="604.0" y="314.6" font-family="Liberation Sans" font-size="10.5" text-anchor="start" fill="#1e1e1e" font-weight="normal" >– NG patch</text>
<polygon points="593.4,337.4 588.1,347.7 598.7,347.7" fill="#f53f3f" stroke="#2e2e2e" stroke-width="0.7" stroke-linejoin="miter"/>
<text x="604.0" y="341.0" font-family="Liberation Sans" font-size="10.5" text-anchor="start" fill="#1e1e1e" font-weight="normal"  letter-spacing="0.28">Negative control</text>
<text x="604.0" y="353.0" font-family="Liberation Sans" font-size="10.5" text-anchor="start" fill="#1e1e1e" font-weight="normal" >+ NG patch</text>
<text x="1.2" y="435.1" font-family="Liberation Sans" font-size="15.0" text-anchor="start" fill="#000" font-weight="bold" >e</text>
<line x1="41.5" y1="462.6" x2="41.5" y2="632.0" stroke="#7a7a7a" stroke-width="1.0"/>
<line x1="34.5" y1="462.5" x2="41.5" y2="462.5" stroke="#7a7a7a" stroke-width="1.0"/>
<text x="29.4" y="466.1" font-family="Liberation Sans" font-size="10.0" text-anchor="end" fill="#1e1e1e" font-weight="normal" letter-spacing="0.2">40</text>
<line x1="34.5" y1="504.5" x2="41.5" y2="504.5" stroke="#7a7a7a" stroke-width="1.0"/>
<text x="29.4" y="508.3" font-family="Liberation Sans" font-size="10.0" text-anchor="end" fill="#1e1e1e" font-weight="normal" letter-spacing="0.2">30</text>
<line x1="34.5" y1="547.5" x2="41.5" y2="547.5" stroke="#7a7a7a" stroke-width="1.0"/>
<text x="29.4" y="550.5" font-family="Liberation Sans" font-size="10.0" text-anchor="end" fill="#1e1e1e" font-weight="normal" letter-spacing="0.2">20</text>
<line x1="34.5" y1="589.5" x2="41.5" y2="589.5" stroke="#7a7a7a" stroke-width="1.0"/>
<text x="29.4" y="592.7" font-family="Liberation Sans" font-size="10.0" text-anchor="end" fill="#1e1e1e" font-weight="normal" letter-spacing="0.2">10</text>
<line x1="34.5" y1="631.5" x2="41.5" y2="631.5" stroke="#7a7a7a" stroke-width="1.0"/>
<text x="29.4" y="634.9" font-family="Liberation Sans" font-size="10.0" text-anchor="end" fill="#1e1e1e" font-weight="normal" letter-spacing="0.2">0</text>
<line x1="41.0" y1="631.5" x2="327.7" y2="631.5" stroke="#7a7a7a" stroke-width="1.0"/>
<line x1="69.5" y1="631.5" x2="69.5" y2="639.0" stroke="#7a7a7a" stroke-width="1.0"/>
<text x="70.0" y="649.8" font-family="Liberation Sans" font-size="10.0" text-anchor="middle" fill="#1e1e1e" font-weight="normal" letter-spacing="0.2">0</text>
<line x1="127.5" y1="631.5" x2="127.5" y2="639.0" stroke="#7a7a7a" stroke-width="1.0"/>
<text x="127.2" y="649.8" font-family="Liberation Sans" font-size="10.0" text-anchor="middle" fill="#1e1e1e" font-weight="normal" letter-spacing="0.2">30</text>
<line x1="184.5" y1="631.5" x2="184.5" y2="639.0" stroke="#7a7a7a" stroke-width="1.0"/>
<text x="184.5" y="649.8" font-family="Liberation Sans" font-size="10.0" text-anchor="middle" fill="#1e1e1e" font-weight="normal" letter-spacing="0.2">60</text>
<line x1="241.5" y1="631.5" x2="241.5" y2="639.0" stroke="#7a7a7a" stroke-width="1.0"/>
<text x="241.5" y="649.8" font-family="Liberation Sans" font-size="10.0" text-anchor="middle" fill="#1e1e1e" font-weight="normal" letter-spacing="0.2">90</text>
<line x1="298.5" y1="631.5" x2="298.5" y2="639.0" stroke="#7a7a7a" stroke-width="1.0"/>
<text x="298.6" y="649.8" font-family="Liberation Sans" font-size="10.0" text-anchor="middle" fill="#1e1e1e" font-weight="normal" letter-spacing="0.2">120</text>
<text x="183.6" y="666.0" font-family="Liberation Sans" font-size="10.5" text-anchor="middle" fill="#1e1e1e" font-weight="normal" >Time (min)</text>
<text transform="translate(10.0,547.3) rotate(-90)" font-family="Liberation Sans" font-size="11.2" text-anchor="middle" fill="#1e1e1e">Blood glucose (mmol l<tspan font-size='7' dy='-4'>−1</tspan><tspan dy='4'>)</tspan></text>
<line x1="69.9" y1="522.0" x2="69.9" y2="547.3" stroke="#4d4d4d" stroke-width="0.8"/>
<line x1="65.4" y1="522.0" x2="74.4" y2="522.0" stroke="#4d4d4d" stroke-width="0.8"/>
<line x1="65.4" y1="547.3" x2="74.4" y2="547.3" stroke="#4d4d4d" stroke-width="0.8"/>
<line x1="127.1" y1="516.9" x2="127.1" y2="534.2" stroke="#4d4d4d" stroke-width="0.8"/>
<line x1="122.6" y1="516.9" x2="131.6" y2="516.9" stroke="#4d4d4d" stroke-width="0.8"/>
<line x1="122.6" y1="534.2" x2="131.6" y2="534.2" stroke="#4d4d4d" stroke-width="0.8"/>
<line x1="184.4" y1="493.5" x2="184.4" y2="505.0" stroke="#4d4d4d" stroke-width="0.8"/>
<line x1="179.9" y1="493.5" x2="188.9" y2="493.5" stroke="#4d4d4d" stroke-width="0.8"/>
<line x1="179.9" y1="505.0" x2="188.9" y2="505.0" stroke="#4d4d4d" stroke-width="0.8"/>
<line x1="241.4" y1="505.0" x2="241.4" y2="519.0" stroke="#4d4d4d" stroke-width="0.8"/>
<line x1="236.9" y1="505.0" x2="245.9" y2="505.0" stroke="#4d4d4d" stroke-width="0.8"/>
<line x1="236.9" y1="519.0" x2="245.9" y2="519.0" stroke="#4d4d4d" stroke-width="0.8"/>
<line x1="298.5" y1="516.2" x2="298.5" y2="537.2" stroke="#4d4d4d" stroke-width="0.8"/>
<line x1="294.0" y1="516.2" x2="303.0" y2="516.2" stroke="#4d4d4d" stroke-width="0.8"/>
<line x1="294.0" y1="537.2" x2="303.0" y2="537.2" stroke="#4d4d4d" stroke-width="0.8"/>
<line x1="241.4" y1="522.0" x2="241.4" y2="536.0" stroke="#4d4d4d" stroke-width="0.8"/>
<line x1="236.9" y1="522.0" x2="245.9" y2="522.0" stroke="#4d4d4d" stroke-width="0.8"/>
<line x1="236.9" y1="536.0" x2="245.9" y2="536.0" stroke="#4d4d4d" stroke-width="0.8"/>
<line x1="298.5" y1="536.0" x2="298.5" y2="548.5" stroke="#4d4d4d" stroke-width="0.8"/>
<line x1="294.0" y1="536.0" x2="303.0" y2="536.0" stroke="#4d4d4d" stroke-width="0.8"/>
<line x1="294.0" y1="548.5" x2="303.0" y2="548.5" stroke="#4d4d4d" stroke-width="0.8"/>
<polyline points="69.9,522.5 127.1,497.5 184.4,499.4 241.4,519.7 298.5,543.0" fill="none" stroke="#2e2efa" stroke-width="1.1"/>
<polyline points="69.9,532.5 127.1,502.2 184.4,499.4 241.4,529.0 298.5,543.0" fill="none" stroke="#2e2efa" stroke-width="1.1"/>
<polyline points="69.9,529.0 127.1,525.5 184.4,499.4 241.4,512.0 298.5,524.4" fill="none" stroke="#222" stroke-width="1.1"/>
<polygon points="69.9,517.0 64.7,527.0 75.1,527.0" fill="#f53f3f" stroke="#2e2e2e" stroke-width="0.7" stroke-linejoin="miter"/>
<polygon points="127.1,492.0 121.9,502.0 132.3,502.0" fill="#f53f3f" stroke="#2e2e2e" stroke-width="0.7" stroke-linejoin="miter"/>
<polygon points="241.4,514.2 236.2,524.2 246.6,524.2" fill="#f53f3f" stroke="#2e2e2e" stroke-width="0.7" stroke-linejoin="miter"/>
<polygon points="298.5,537.5 293.3,547.5 303.7,547.5" fill="#f53f3f" stroke="#2e2e2e" stroke-width="0.7" stroke-linejoin="miter"/>
<polygon points="69.9,528.5 64.7,538.5 75.1,538.5" fill="#d2d2d2" stroke="#2e2e2e" stroke-width="0.7" stroke-linejoin="miter"/>
<polygon points="127.1,496.7 121.9,506.7 132.3,506.7" fill="#d2d2d2" stroke="#2e2e2e" stroke-width="0.7" stroke-linejoin="miter"/>
<polygon points="241.4,523.5 236.2,533.5 246.6,533.5" fill="#d2d2d2" stroke="#2e2e2e" stroke-width="0.7" stroke-linejoin="miter"/>
<polygon points="298.5,537.5 293.3,547.5 303.7,547.5" fill="#d2d2d2" stroke="#2e2e2e" stroke-width="0.7" stroke-linejoin="miter"/>
<circle cx="69.9" cy="529.0" r="5.3" fill="#d2d2d2" stroke="#2e2e2e" stroke-width="0.7"/>
<circle cx="127.1" cy="525.5" r="5.3" fill="#d2d2d2" stroke="#2e2e2e" stroke-width="0.7"/>
<circle cx="184.4" cy="499.4" r="5.3" fill="#d2d2d2" stroke="#2e2e2e" stroke-width="0.7"/>
<circle cx="241.4" cy="512.0" r="5.3" fill="#d2d2d2" stroke="#2e2e2e" stroke-width="0.7"/>
<circle cx="298.5" cy="524.4" r="5.3" fill="#d2d2d2" stroke="#2e2e2e" stroke-width="0.7"/>
<line x1="69.9" y1="578.6" x2="69.9" y2="589.1" stroke="#4d4d4d" stroke-width="0.8"/>
<line x1="65.4" y1="578.6" x2="74.4" y2="578.6" stroke="#4d4d4d" stroke-width="0.8"/>
<line x1="65.4" y1="589.1" x2="74.4" y2="589.1" stroke="#4d4d4d" stroke-width="0.8"/>
<line x1="184.4" y1="547.0" x2="184.4" y2="566.4" stroke="#4d4d4d" stroke-width="0.8"/>
<line x1="179.9" y1="547.0" x2="188.9" y2="547.0" stroke="#4d4d4d" stroke-width="0.8"/>
<line x1="179.9" y1="566.4" x2="188.9" y2="566.4" stroke="#4d4d4d" stroke-width="0.8"/>
<line x1="241.4" y1="575.8" x2="241.4" y2="594.5" stroke="#4d4d4d" stroke-width="0.8"/>
<line x1="236.9" y1="575.8" x2="245.9" y2="575.8" stroke="#4d4d4d" stroke-width="0.8"/>
<line x1="236.9" y1="594.5" x2="245.9" y2="594.5" stroke="#4d4d4d" stroke-width="0.8"/>
<polyline points="69.9,584.0 127.1,580.9 184.4,556.6 241.4,585.1 298.5,601.9" fill="none" stroke="#222" stroke-width="1.1"/>
<circle cx="69.9" cy="584.0" r="5.3" fill="#f53f3f" stroke="#2e2e2e" stroke-width="0.7"/>
<circle cx="127.1" cy="580.9" r="5.3" fill="#f53f3f" stroke="#2e2e2e" stroke-width="0.7"/>
<circle cx="184.4" cy="556.6" r="5.3" fill="#f53f3f" stroke="#2e2e2e" stroke-width="0.7"/>
<circle cx="241.4" cy="585.1" r="5.3" fill="#f53f3f" stroke="#2e2e2e" stroke-width="0.7"/>
<circle cx="298.5" cy="601.9" r="5.3" fill="#f53f3f" stroke="#2e2e2e" stroke-width="0.7"/>
<text x="70.8" y="566.4" font-family="Liberation Sans" font-size="8.8" text-anchor="middle" fill="#1e1e1e"><tspan font-style="italic">P</tspan> = 0.001</text>
<polygon points="65.20,569.70 65.93,571.49 67.86,571.63 66.39,572.89 66.85,574.77 65.20,573.75 63.55,574.77 64.01,572.89 62.54,571.63 64.47,571.49" fill="#1e1e1e"/>
<polygon points="70.90,569.70 71.63,571.49 73.56,571.63 72.09,572.89 72.55,574.77 70.90,573.75 69.25,574.77 69.71,572.89 68.24,571.63 70.17,571.49" fill="#1e1e1e"/>
<polygon points="76.60,569.70 77.33,571.49 79.26,571.63 77.79,572.89 78.25,574.77 76.60,573.75 74.95,574.77 75.41,572.89 73.94,571.63 75.87,571.49" fill="#1e1e1e"/>
<text x="126.8" y="561.0" font-family="Liberation Sans" font-size="8.8" text-anchor="middle" fill="#1e1e1e"><tspan font-style="italic">P</tspan> = 0.0011</text>
<polygon points="123.75,566.20 124.48,567.99 126.41,568.13 124.94,569.39 125.40,571.27 123.75,570.25 122.10,571.27 122.56,569.39 121.09,568.13 123.02,567.99" fill="#1e1e1e"/>
<polygon points="129.45,566.20 130.18,567.99 132.11,568.13 130.64,569.39 131.10,571.27 129.45,570.25 127.80,571.27 128.26,569.39 126.79,568.13 128.72,567.99" fill="#1e1e1e"/>
<text x="184.0" y="534.4" font-family="Liberation Sans" font-size="8.8" text-anchor="middle" fill="#1e1e1e"><tspan font-style="italic">P</tspan> = 0.0013</text>
<polygon points="181.55,538.70 182.28,540.49 184.21,540.63 182.74,541.89 183.20,543.77 181.55,542.75 179.90,543.77 180.36,541.89 178.89,540.63 180.82,540.49" fill="#1e1e1e"/>
<polygon points="187.25,538.70 187.98,540.49 189.91,540.63 188.44,541.89 188.90,543.77 187.25,542.75 185.60,543.77 186.06,541.89 184.59,540.63 186.52,540.49" fill="#1e1e1e"/>
<text x="237.8" y="563.6" font-family="Liberation Sans" font-size="8.8" text-anchor="middle" fill="#1e1e1e"><tspan font-style="italic">P</tspan> = 0.0003</text>
<polygon points="235.50,567.00 236.23,568.79 238.16,568.93 236.69,570.19 237.15,572.07 235.50,571.05 233.85,572.07 234.31,570.19 232.84,568.93 234.77,568.79" fill="#1e1e1e"/>
<polygon points="241.20,567.00 241.93,568.79 243.86,568.93 242.39,570.19 242.85,572.07 241.20,571.05 239.55,572.07 240.01,570.19 238.54,568.93 240.47,568.79" fill="#1e1e1e"/>
<polygon points="246.90,567.00 247.63,568.79 249.56,568.93 248.09,570.19 248.55,572.07 246.90,571.05 245.25,572.07 245.71,570.19 244.24,568.93 246.17,568.79" fill="#1e1e1e"/>
<text x="296.4" y="584.0" font-family="Liberation Sans" font-size="8.8" text-anchor="middle" fill="#1e1e1e"><tspan font-style="italic">P</tspan> = 0.0001</text>
<polygon points="289.45,587.30 290.18,589.09 292.11,589.23 290.64,590.49 291.10,592.37 289.45,591.35 287.80,592.37 288.26,590.49 286.79,589.23 288.72,589.09" fill="#1e1e1e"/>
<polygon points="295.15,587.30 295.88,589.09 297.81,589.23 296.34,590.49 296.80,592.37 295.15,591.35 293.50,592.37 293.96,590.49 292.49,589.23 294.42,589.09" fill="#1e1e1e"/>
<polygon points="300.85,587.30 301.58,589.09 303.51,589.23 302.04,590.49 302.50,592.37 300.85,591.35 299.20,592.37 299.66,590.49 298.19,589.23 300.12,589.09" fill="#1e1e1e"/>
<polygon points="306.55,587.30 307.28,589.09 309.21,589.23 307.74,590.49 308.20,592.37 306.55,591.35 304.90,592.37 305.36,590.49 303.89,589.23 305.82,589.09" fill="#1e1e1e"/>
<line x1="73.7" y1="437.3" x2="91.8" y2="437.3" stroke="#222" stroke-width="1.0"/>
<circle cx="82.4" cy="437.3" r="5.3" fill="#f53f3f" stroke="#2e2e2e" stroke-width="0.7"/>
<text x="97.3" y="441.0" font-family="Liberation Sans" font-size="10.5" text-anchor="start" fill="#1e1e1e" font-weight="normal" >+ NG patch</text>
<line x1="73.7" y1="462.9" x2="91.8" y2="462.9" stroke="#222" stroke-width="1.0"/>
<circle cx="82.4" cy="462.9" r="5.3" fill="#d2d2d2" stroke="#2e2e2e" stroke-width="0.7"/>
<text x="97.3" y="466.6" font-family="Liberation Sans" font-size="10.5" text-anchor="start" fill="#1e1e1e" font-weight="normal" >– NG patch</text>
<line x1="164.2" y1="437.6" x2="182.2" y2="437.6" stroke="#2e2efa" stroke-width="1.0"/>
<polygon points="173.0,432.5 167.7,443.0 178.3,443.0" fill="#d2d2d2" stroke="#2e2e2e" stroke-width="0.7" stroke-linejoin="miter"/>
<text x="188.8" y="434.7" font-family="Liberation Sans" font-size="10.5" text-anchor="start" fill="#1e1e1e" font-weight="normal"  letter-spacing="0.28">Negative control</text>
<text x="188.8" y="447.2" font-family="Liberation Sans" font-size="10.5" text-anchor="start" fill="#1e1e1e" font-weight="normal" >– NG patch</text>
<line x1="164.2" y1="463.2" x2="182.2" y2="463.2" stroke="#2e2efa" stroke-width="1.0"/>
<polygon points="173.0,458.4 167.7,468.6 178.3,468.6" fill="#f53f3f" stroke="#2e2e2e" stroke-width="0.7" stroke-linejoin="miter"/>
<text x="188.8" y="460.3" font-family="Liberation Sans" font-size="10.5" text-anchor="start" fill="#1e1e1e" font-weight="normal"  letter-spacing="0.28">Negative control</text>
<text x="188.8" y="472.4" font-family="Liberation Sans" font-size="10.5" text-anchor="start" fill="#1e1e1e" font-weight="normal" >+ NG patch</text>
<text x="352.8" y="435.0" font-family="Liberation Sans" font-size="15.0" text-anchor="start" fill="#000" font-weight="bold" >f</text>
<line x1="394.5" y1="461.0" x2="394.5" y2="632.0" stroke="#7a7a7a" stroke-width="1.0"/>
<line x1="387.5" y1="461.5" x2="394.5" y2="461.5" stroke="#7a7a7a" stroke-width="1.0"/>
<text x="382.8" y="464.8" font-family="Liberation Sans" font-size="10.0" text-anchor="end" fill="#1e1e1e" font-weight="normal" letter-spacing="0.2">40</text>
<line x1="387.5" y1="503.5" x2="394.5" y2="503.5" stroke="#7a7a7a" stroke-width="1.0"/>
<text x="382.8" y="507.3" font-family="Liberation Sans" font-size="10.0" text-anchor="end" fill="#1e1e1e" font-weight="normal" letter-spacing="0.2">30</text>
<line x1="387.5" y1="546.5" x2="394.5" y2="546.5" stroke="#7a7a7a" stroke-width="1.0"/>
<text x="382.8" y="549.8" font-family="Liberation Sans" font-size="10.0" text-anchor="end" fill="#1e1e1e" font-weight="normal" letter-spacing="0.2">20</text>
<line x1="387.5" y1="588.5" x2="394.5" y2="588.5" stroke="#7a7a7a" stroke-width="1.0"/>
<text x="382.8" y="592.3" font-family="Liberation Sans" font-size="10.0" text-anchor="end" fill="#1e1e1e" font-weight="normal" letter-spacing="0.2">10</text>
<line x1="387.5" y1="631.5" x2="394.5" y2="631.5" stroke="#7a7a7a" stroke-width="1.0"/>
<text x="382.8" y="634.8" font-family="Liberation Sans" font-size="10.0" text-anchor="end" fill="#1e1e1e" font-weight="normal" letter-spacing="0.2">0</text>
<line x1="394.0" y1="631.5" x2="679.0" y2="631.5" stroke="#7a7a7a" stroke-width="1.0"/>
<line x1="429.5" y1="631.5" x2="429.5" y2="639.0" stroke="#7a7a7a" stroke-width="1.0"/>
<text x="429.8" y="650.0" font-family="Liberation Sans" font-size="10.0" text-anchor="middle" fill="#1e1e1e" font-weight="normal" letter-spacing="0.2">0</text>
<line x1="483.5" y1="631.5" x2="483.5" y2="639.0" stroke="#7a7a7a" stroke-width="1.0"/>
<text x="483.4" y="650.0" font-family="Liberation Sans" font-size="10.0" text-anchor="middle" fill="#1e1e1e" font-weight="normal" letter-spacing="0.2">30</text>
<line x1="536.5" y1="631.5" x2="536.5" y2="639.0" stroke="#7a7a7a" stroke-width="1.0"/>
<text x="536.7" y="650.0" font-family="Liberation Sans" font-size="10.0" text-anchor="middle" fill="#1e1e1e" font-weight="normal" letter-spacing="0.2">60</text>
<line x1="590.5" y1="631.5" x2="590.5" y2="639.0" stroke="#7a7a7a" stroke-width="1.0"/>
<text x="590.2" y="650.0" font-family="Liberation Sans" font-size="10.0" text-anchor="middle" fill="#1e1e1e" font-weight="normal" letter-spacing="0.2">90</text>
<line x1="643.5" y1="631.5" x2="643.5" y2="639.0" stroke="#7a7a7a" stroke-width="1.0"/>
<text x="643.9" y="650.0" font-family="Liberation Sans" font-size="10.0" text-anchor="middle" fill="#1e1e1e" font-weight="normal" letter-spacing="0.2">120</text>
<text x="536.5" y="665.5" font-family="Liberation Sans" font-size="10.5" text-anchor="middle" fill="#1e1e1e" font-weight="normal" >Time (min)</text>
<text transform="translate(363.5,546.0) rotate(-90)" font-family="Liberation Sans" font-size="11.2" text-anchor="middle" fill="#1e1e1e">Blood glucose (mmol l<tspan font-size='7' dy='-4'>−1</tspan><tspan dy='4'>)</tspan></text>
<line x1="429.7" y1="501.7" x2="429.7" y2="548.4" stroke="#4d4d4d" stroke-width="0.8"/>
<line x1="425.2" y1="501.7" x2="434.2" y2="501.7" stroke="#4d4d4d" stroke-width="0.8"/>
<line x1="425.2" y1="548.4" x2="434.2" y2="548.4" stroke="#4d4d4d" stroke-width="0.8"/>
<line x1="429.7" y1="508.7" x2="429.7" y2="550.3" stroke="#4d4d4d" stroke-width="0.8"/>
<line x1="425.2" y1="508.7" x2="434.2" y2="508.7" stroke="#4d4d4d" stroke-width="0.8"/>
<line x1="425.2" y1="550.3" x2="434.2" y2="550.3" stroke="#4d4d4d" stroke-width="0.8"/>
<line x1="429.7" y1="515.2" x2="429.7" y2="552.4" stroke="#4d4d4d" stroke-width="0.8"/>
<line x1="425.2" y1="515.2" x2="434.2" y2="515.2" stroke="#4d4d4d" stroke-width="0.8"/>
<line x1="425.2" y1="552.4" x2="434.2" y2="552.4" stroke="#4d4d4d" stroke-width="0.8"/>
<line x1="483.3" y1="498.9" x2="483.3" y2="539.8" stroke="#4d4d4d" stroke-width="0.8"/>
<line x1="478.8" y1="498.9" x2="487.8" y2="498.9" stroke="#4d4d4d" stroke-width="0.8"/>
<line x1="478.8" y1="539.8" x2="487.8" y2="539.8" stroke="#4d4d4d" stroke-width="0.8"/>
<line x1="483.3" y1="501.2" x2="483.3" y2="520.0" stroke="#4d4d4d" stroke-width="0.8"/>
<line x1="478.8" y1="501.2" x2="487.8" y2="501.2" stroke="#4d4d4d" stroke-width="0.8"/>
<line x1="478.8" y1="520.0" x2="487.8" y2="520.0" stroke="#4d4d4d" stroke-width="0.8"/>
<line x1="536.6" y1="494.7" x2="536.6" y2="533.9" stroke="#4d4d4d" stroke-width="0.8"/>
<line x1="532.1" y1="494.7" x2="541.1" y2="494.7" stroke="#4d4d4d" stroke-width="0.8"/>
<line x1="532.1" y1="533.9" x2="541.1" y2="533.9" stroke="#4d4d4d" stroke-width="0.8"/>
<line x1="536.6" y1="505.9" x2="536.6" y2="531.6" stroke="#4d4d4d" stroke-width="0.8"/>
<line x1="532.1" y1="505.9" x2="541.1" y2="505.9" stroke="#4d4d4d" stroke-width="0.8"/>
<line x1="532.1" y1="531.6" x2="541.1" y2="531.6" stroke="#4d4d4d" stroke-width="0.8"/>
<line x1="536.6" y1="504.5" x2="536.6" y2="526.7" stroke="#4d4d4d" stroke-width="0.8"/>
<line x1="532.1" y1="504.5" x2="541.1" y2="504.5" stroke="#4d4d4d" stroke-width="0.8"/>
<line x1="532.1" y1="526.7" x2="541.1" y2="526.7" stroke="#4d4d4d" stroke-width="0.8"/>
<line x1="590.1" y1="494.0" x2="590.1" y2="567.6" stroke="#4d4d4d" stroke-width="0.8"/>
<line x1="585.6" y1="494.0" x2="594.6" y2="494.0" stroke="#4d4d4d" stroke-width="0.8"/>
<line x1="585.6" y1="567.6" x2="594.6" y2="567.6" stroke="#4d4d4d" stroke-width="0.8"/>
<line x1="590.1" y1="520.0" x2="590.1" y2="559.4" stroke="#4d4d4d" stroke-width="0.8"/>
<line x1="585.6" y1="520.0" x2="594.6" y2="520.0" stroke="#4d4d4d" stroke-width="0.8"/>
<line x1="585.6" y1="559.4" x2="594.6" y2="559.4" stroke="#4d4d4d" stroke-width="0.8"/>
<line x1="643.8" y1="512.7" x2="643.8" y2="570.4" stroke="#4d4d4d" stroke-width="0.8"/>
<line x1="639.3" y1="512.7" x2="648.3" y2="512.7" stroke="#4d4d4d" stroke-width="0.8"/>
<line x1="639.3" y1="570.4" x2="648.3" y2="570.4" stroke="#4d4d4d" stroke-width="0.8"/>
<line x1="643.8" y1="522.7" x2="643.8" y2="548.0" stroke="#4d4d4d" stroke-width="0.8"/>
<line x1="639.3" y1="522.7" x2="648.3" y2="522.7" stroke="#4d4d4d" stroke-width="0.8"/>
<line x1="639.3" y1="548.0" x2="648.3" y2="548.0" stroke="#4d4d4d" stroke-width="0.8"/>
<polyline points="429.7,526.0 483.3,508.0 536.6,510.6 590.1,515.0 643.8,537.2" fill="none" stroke="#2e2efa" stroke-width="1.1"/>
<polyline points="429.7,529.0 483.3,512.7 536.6,515.7 590.1,533.7 643.8,533.7" fill="none" stroke="#2e2efa" stroke-width="1.1"/>
<polyline points="429.7,531.6 483.3,519.2 536.6,519.2 590.1,540.7 643.8,556.4" fill="none" stroke="#222" stroke-width="1.1"/>
<polygon points="429.7,520.5 424.5,530.5 434.9,530.5" fill="#f53f3f" stroke="#2e2e2e" stroke-width="0.7" stroke-linejoin="miter"/>
<polygon points="483.3,507.2 478.1,517.2 488.5,517.2" fill="#f53f3f" stroke="#2e2e2e" stroke-width="0.7" stroke-linejoin="miter"/>
<polygon points="536.6,510.2 531.4,520.2 541.8,520.2" fill="#f53f3f" stroke="#2e2e2e" stroke-width="0.7" stroke-linejoin="miter"/>
<polygon points="590.1,528.2 584.9,538.2 595.3,538.2" fill="#f53f3f" stroke="#2e2e2e" stroke-width="0.7" stroke-linejoin="miter"/>
<polygon points="643.8,528.2 638.6,538.2 649.0,538.2" fill="#f53f3f" stroke="#2e2e2e" stroke-width="0.7" stroke-linejoin="miter"/>
<polygon points="429.7,522.5 424.5,532.5 434.9,532.5" fill="#d2d2d2" stroke="#2e2e2e" stroke-width="0.7" stroke-linejoin="miter"/>
<polygon points="483.3,502.5 478.1,512.5 488.5,512.5" fill="#d2d2d2" stroke="#2e2e2e" stroke-width="0.7" stroke-linejoin="miter"/>
<polygon points="536.6,506.0 531.4,516.0 541.8,516.0" fill="#d2d2d2" stroke="#2e2e2e" stroke-width="0.7" stroke-linejoin="miter"/>
<polygon points="590.1,509.5 584.9,519.5 595.3,519.5" fill="#d2d2d2" stroke="#2e2e2e" stroke-width="0.7" stroke-linejoin="miter"/>
<polygon points="643.8,531.7 638.6,541.7 649.0,541.7" fill="#d2d2d2" stroke="#2e2e2e" stroke-width="0.7" stroke-linejoin="miter"/>
<circle cx="429.7" cy="531.6" r="5.3" fill="#d2d2d2" stroke="#2e2e2e" stroke-width="0.7"/>
<circle cx="483.3" cy="519.2" r="5.3" fill="#d2d2d2" stroke="#2e2e2e" stroke-width="0.7"/>
<circle cx="536.6" cy="519.2" r="5.3" fill="#d2d2d2" stroke="#2e2e2e" stroke-width="0.7"/>
<circle cx="590.1" cy="540.7" r="5.3" fill="#d2d2d2" stroke="#2e2e2e" stroke-width="0.7"/>
<circle cx="643.8" cy="556.4" r="5.3" fill="#d2d2d2" stroke="#2e2e2e" stroke-width="0.7"/>
<line x1="429.7" y1="562.4" x2="429.7" y2="579.2" stroke="#4d4d4d" stroke-width="0.8"/>
<line x1="425.2" y1="562.4" x2="434.2" y2="562.4" stroke="#4d4d4d" stroke-width="0.8"/>
<line x1="425.2" y1="579.2" x2="434.2" y2="579.2" stroke="#4d4d4d" stroke-width="0.8"/>
<line x1="483.3" y1="545.6" x2="483.3" y2="583.0" stroke="#4d4d4d" stroke-width="0.8"/>
<line x1="478.8" y1="545.6" x2="487.8" y2="545.6" stroke="#4d4d4d" stroke-width="0.8"/>
<line x1="478.8" y1="583.0" x2="487.8" y2="583.0" stroke="#4d4d4d" stroke-width="0.8"/>
<line x1="536.6" y1="600.0" x2="536.6" y2="609.5" stroke="#4d4d4d" stroke-width="0.8"/>
<line x1="532.1" y1="600.0" x2="541.1" y2="600.0" stroke="#4d4d4d" stroke-width="0.8"/>
<line x1="532.1" y1="609.5" x2="541.1" y2="609.5" stroke="#4d4d4d" stroke-width="0.8"/>
<line x1="590.1" y1="595.6" x2="590.1" y2="613.6" stroke="#4d4d4d" stroke-width="0.8"/>
<line x1="585.6" y1="595.6" x2="594.6" y2="595.6" stroke="#4d4d4d" stroke-width="0.8"/>
<line x1="585.6" y1="613.6" x2="594.6" y2="613.6" stroke="#4d4d4d" stroke-width="0.8"/>
<line x1="643.8" y1="581.6" x2="643.8" y2="612.0" stroke="#4d4d4d" stroke-width="0.8"/>
<line x1="639.3" y1="581.6" x2="648.3" y2="581.6" stroke="#4d4d4d" stroke-width="0.8"/>
<line x1="639.3" y1="612.0" x2="648.3" y2="612.0" stroke="#4d4d4d" stroke-width="0.8"/>
<polyline points="429.7,571.0 483.3,564.3 536.6,604.9 590.1,605.0 643.8,596.3" fill="none" stroke="#222" stroke-width="1.1"/>
<circle cx="429.7" cy="571.0" r="5.3" fill="#f53f3f" stroke="#2e2e2e" stroke-width="0.7"/>
<circle cx="483.3" cy="564.3" r="5.3" fill="#f53f3f" stroke="#2e2e2e" stroke-width="0.7"/>
<circle cx="536.6" cy="604.9" r="5.3" fill="#f53f3f" stroke="#2e2e2e" stroke-width="0.7"/>
<circle cx="590.1" cy="605.0" r="5.3" fill="#f53f3f" stroke="#2e2e2e" stroke-width="0.7"/>
<circle cx="643.8" cy="596.3" r="5.3" fill="#f53f3f" stroke="#2e2e2e" stroke-width="0.7"/>
<polygon points="426.85,585.10 427.58,586.89 429.51,587.03 428.04,588.29 428.50,590.17 426.85,589.15 425.20,590.17 425.66,588.29 424.19,587.03 426.12,586.89" fill="#1e1e1e"/>
<polygon points="432.55,585.10 433.28,586.89 435.21,587.03 433.74,588.29 434.20,590.17 432.55,589.15 430.90,590.17 431.36,588.29 429.89,587.03 431.82,586.89" fill="#1e1e1e"/>
<text x="432.0" y="599.8" font-family="Liberation Sans" font-size="8.8" text-anchor="middle" fill="#1e1e1e"><tspan font-style="italic">P</tspan> = 0.005</text>
<polygon points="483.40,587.50 484.13,589.29 486.06,589.43 484.59,590.69 485.05,592.57 483.40,591.55 481.75,592.57 482.21,590.69 480.74,589.43 482.67,589.29" fill="#1e1e1e"/>
<text x="485.2" y="601.0" font-family="Liberation Sans" font-size="8.8" text-anchor="middle" fill="#1e1e1e"><tspan font-style="italic">P</tspan> = 0.017</text>
<text x="542.5" y="584.4" font-family="Liberation Sans" font-size="8.8" text-anchor="middle" fill="#1e1e1e"><tspan font-style="italic">P</tspan> &lt; 0.0001</text>
<polygon points="531.45,587.30 532.18,589.09 534.11,589.23 532.64,590.49 533.10,592.37 531.45,591.35 529.80,592.37 530.26,590.49 528.79,589.23 530.72,589.09" fill="#1e1e1e"/>
<polygon points="537.15,587.30 537.88,589.09 539.81,589.23 538.34,590.49 538.80,592.37 537.15,591.35 535.50,592.37 535.96,590.49 534.49,589.23 536.42,589.09" fill="#1e1e1e"/>
<polygon points="542.85,587.30 543.58,589.09 545.51,589.23 544.04,590.49 544.50,592.37 542.85,591.35 541.20,592.37 541.66,590.49 540.19,589.23 542.12,589.09" fill="#1e1e1e"/>
<polygon points="548.55,587.30 549.28,589.09 551.21,589.23 549.74,590.49 550.20,592.37 548.55,591.35 546.90,592.37 547.36,590.49 545.89,589.23 547.82,589.09" fill="#1e1e1e"/>
<text x="590.2" y="584.4" font-family="Liberation Sans" font-size="8.8" text-anchor="middle" fill="#1e1e1e"><tspan font-style="italic">P</tspan> = 0.004</text>
<polygon points="587.25,587.30 587.98,589.09 589.91,589.23 588.44,590.49 588.90,592.37 587.25,591.35 585.60,592.37 586.06,590.49 584.59,589.23 586.52,589.09" fill="#1e1e1e"/>
<polygon points="592.95,587.30 593.68,589.09 595.61,589.23 594.14,590.49 594.60,592.37 592.95,591.35 591.30,592.37 591.76,590.49 590.29,589.23 592.22,589.09" fill="#1e1e1e"/>
<polygon points="640.95,614.20 641.68,615.99 643.61,616.13 642.14,617.39 642.60,619.27 640.95,618.25 639.30,619.27 639.76,617.39 638.29,616.13 640.22,615.99" fill="#1e1e1e"/>
<polygon points="646.65,614.20 647.38,615.99 649.31,616.13 647.84,617.39 648.30,619.27 646.65,618.25 645.00,619.27 645.46,617.39 643.99,616.13 645.92,615.99" fill="#1e1e1e"/>
<text x="642.8" y="627.6" font-family="Liberation Sans" font-size="8.8" text-anchor="middle" fill="#1e1e1e"><tspan font-style="italic">P</tspan> = 0.008</text>
<line x1="443.5" y1="437.9" x2="461.5" y2="437.9" stroke="#222" stroke-width="1.0"/>
<circle cx="452.5" cy="437.9" r="5.3" fill="#f53f3f" stroke="#2e2e2e" stroke-width="0.7"/>
<text x="467.4" y="441.3" font-family="Liberation Sans" font-size="10.5" text-anchor="start" fill="#1e1e1e" font-weight="normal" >+ NG patch</text>
<line x1="443.5" y1="463.6" x2="461.5" y2="463.6" stroke="#222" stroke-width="1.0"/>
<circle cx="452.5" cy="463.6" r="5.3" fill="#d2d2d2" stroke="#2e2e2e" stroke-width="0.7"/>
<text x="467.4" y="467.0" font-family="Liberation Sans" font-size="10.5" text-anchor="start" fill="#1e1e1e" font-weight="normal" >– NG patch</text>
<line x1="534.0" y1="437.5" x2="552.2" y2="437.5" stroke="#2e2efa" stroke-width="1.0"/>
<polygon points="542.8,432.3 537.5,442.8 548.1,442.8" fill="#d2d2d2" stroke="#2e2e2e" stroke-width="0.7" stroke-linejoin="miter"/>
<text x="558.0" y="434.0" font-family="Liberation Sans" font-size="10.5" text-anchor="start" fill="#1e1e1e" font-weight="normal"  letter-spacing="0.28">Negative control</text>
<text x="558.0" y="446.5" font-family="Liberation Sans" font-size="10.5" text-anchor="start" fill="#1e1e1e" font-weight="normal" >– NG patch</text>
<line x1="534.0" y1="463.2" x2="552.2" y2="463.2" stroke="#2e2efa" stroke-width="1.0"/>
<polygon points="542.8,458.2 537.5,468.4 548.1,468.4" fill="#f53f3f" stroke="#2e2e2e" stroke-width="0.7" stroke-linejoin="miter"/>
<text x="558.0" y="459.7" font-family="Liberation Sans" font-size="10.5" text-anchor="start" fill="#1e1e1e" font-weight="normal"  letter-spacing="0.28">Negative control</text>
<text x="558.0" y="472.0" font-family="Liberation Sans" font-size="10.5" text-anchor="start" fill="#1e1e1e" font-weight="normal" >+ NG patch</text>
<text x="127.0" y="694.5" font-family="Liberation Sans" font-size="15.0" text-anchor="start" fill="#000" font-weight="bold" >g</text>
<line x1="172.5" y1="694.2" x2="172.5" y2="891.0" stroke="#7a7a7a" stroke-width="1.0"/>
<line x1="165.5" y1="694.5" x2="172.5" y2="694.5" stroke="#7a7a7a" stroke-width="1.0"/>
<text x="160.4" y="697.5" font-family="Liberation Sans" font-size="10.0" text-anchor="end" fill="#1e1e1e" font-weight="normal" letter-spacing="0.2">40</text>
<line x1="165.5" y1="743.5" x2="172.5" y2="743.5" stroke="#7a7a7a" stroke-width="1.0"/>
<text x="160.4" y="746.5" font-family="Liberation Sans" font-size="10.0" text-anchor="end" fill="#1e1e1e" font-weight="normal" letter-spacing="0.2">30</text>
<line x1="165.5" y1="792.5" x2="172.5" y2="792.5" stroke="#7a7a7a" stroke-width="1.0"/>
<text x="160.4" y="795.5" font-family="Liberation Sans" font-size="10.0" text-anchor="end" fill="#1e1e1e" font-weight="normal" letter-spacing="0.2">20</text>
<line x1="165.5" y1="841.5" x2="172.5" y2="841.5" stroke="#7a7a7a" stroke-width="1.0"/>
<text x="160.4" y="844.5" font-family="Liberation Sans" font-size="10.0" text-anchor="end" fill="#1e1e1e" font-weight="normal" letter-spacing="0.2">10</text>
<line x1="165.5" y1="890.5" x2="172.5" y2="890.5" stroke="#7a7a7a" stroke-width="1.0"/>
<text x="160.4" y="893.5" font-family="Liberation Sans" font-size="10.0" text-anchor="end" fill="#1e1e1e" font-weight="normal" letter-spacing="0.2">0</text>
<line x1="172.0" y1="890.5" x2="504.6" y2="890.5" stroke="#7a7a7a" stroke-width="1.0"/>
<line x1="187.5" y1="890.5" x2="187.5" y2="898.0" stroke="#7a7a7a" stroke-width="1.0"/>
<text x="187.2" y="909.0" font-family="Liberation Sans" font-size="10.0" text-anchor="middle" fill="#1e1e1e" font-weight="normal" letter-spacing="0.2">0</text>
<line x1="217.5" y1="890.5" x2="217.5" y2="898.0" stroke="#7a7a7a" stroke-width="1.0"/>
<text x="217.6" y="909.0" font-family="Liberation Sans" font-size="10.0" text-anchor="middle" fill="#1e1e1e" font-weight="normal" letter-spacing="0.2">2</text>
<line x1="247.5" y1="890.5" x2="247.5" y2="898.0" stroke="#7a7a7a" stroke-width="1.0"/>
<text x="247.7" y="909.0" font-family="Liberation Sans" font-size="10.0" text-anchor="middle" fill="#1e1e1e" font-weight="normal" letter-spacing="0.2">4</text>
<line x1="277.5" y1="890.5" x2="277.5" y2="898.0" stroke="#7a7a7a" stroke-width="1.0"/>
<text x="277.7" y="909.0" font-family="Liberation Sans" font-size="10.0" text-anchor="middle" fill="#1e1e1e" font-weight="normal" letter-spacing="0.2">6</text>
<line x1="308.5" y1="890.5" x2="308.5" y2="898.0" stroke="#7a7a7a" stroke-width="1.0"/>
<text x="308.1" y="909.0" font-family="Liberation Sans" font-size="10.0" text-anchor="middle" fill="#1e1e1e" font-weight="normal" letter-spacing="0.2">8</text>
<line x1="338.5" y1="890.5" x2="338.5" y2="898.0" stroke="#7a7a7a" stroke-width="1.0"/>
<text x="338.5" y="909.0" font-family="Liberation Sans" font-size="10.0" text-anchor="middle" fill="#1e1e1e" font-weight="normal" letter-spacing="0.2">10</text>
<line x1="368.5" y1="890.5" x2="368.5" y2="898.0" stroke="#7a7a7a" stroke-width="1.0"/>
<text x="368.4" y="909.0" font-family="Liberation Sans" font-size="10.0" text-anchor="middle" fill="#1e1e1e" font-weight="normal" letter-spacing="0.2">12</text>
<line x1="398.5" y1="890.5" x2="398.5" y2="898.0" stroke="#7a7a7a" stroke-width="1.0"/>
<text x="398.6" y="909.0" font-family="Liberation Sans" font-size="10.0" text-anchor="middle" fill="#1e1e1e" font-weight="normal" letter-spacing="0.2">14</text>
<line x1="428.5" y1="890.5" x2="428.5" y2="898.0" stroke="#7a7a7a" stroke-width="1.0"/>
<text x="428.7" y="909.0" font-family="Liberation Sans" font-size="10.0" text-anchor="middle" fill="#1e1e1e" font-weight="normal" letter-spacing="0.2">16</text>
<line x1="459.5" y1="890.5" x2="459.5" y2="898.0" stroke="#7a7a7a" stroke-width="1.0"/>
<text x="459.1" y="909.0" font-family="Liberation Sans" font-size="10.0" text-anchor="middle" fill="#1e1e1e" font-weight="normal" letter-spacing="0.2">18</text>
<line x1="489.5" y1="890.5" x2="489.5" y2="898.0" stroke="#7a7a7a" stroke-width="1.0"/>
<text x="489.6" y="909.0" font-family="Liberation Sans" font-size="10.0" text-anchor="middle" fill="#1e1e1e" font-weight="normal" letter-spacing="0.2">24</text>
<text x="338.5" y="924.8" font-family="Liberation Sans" font-size="10.6" text-anchor="middle" fill="#1e1e1e" font-weight="normal" >Time (h)</text>
<text transform="translate(141.5,792.0) rotate(-90)" font-family="Liberation Sans" font-size="11.2" text-anchor="middle" fill="#1e1e1e">Blood glucose (mmol l<tspan font-size='7' dy='-4'>−1</tspan><tspan dy='4'>)</tspan></text>
<line x1="187.1" y1="755.4" x2="187.1" y2="775.3" stroke="#555" stroke-width="0.8"/>
<line x1="182.9" y1="755.4" x2="191.3" y2="755.4" stroke="#555" stroke-width="0.8"/>
<line x1="182.9" y1="775.3" x2="191.3" y2="775.3" stroke="#555" stroke-width="0.8"/>
<line x1="217.5" y1="747.7" x2="217.5" y2="766.4" stroke="#555" stroke-width="0.8"/>
<line x1="213.3" y1="747.7" x2="221.7" y2="747.7" stroke="#555" stroke-width="0.8"/>
<line x1="213.3" y1="766.4" x2="221.7" y2="766.4" stroke="#555" stroke-width="0.8"/>
<line x1="247.6" y1="750.7" x2="247.6" y2="766.6" stroke="#555" stroke-width="0.8"/>
<line x1="243.4" y1="750.7" x2="251.8" y2="750.7" stroke="#555" stroke-width="0.8"/>
<line x1="243.4" y1="766.6" x2="251.8" y2="766.6" stroke="#555" stroke-width="0.8"/>
<line x1="277.6" y1="738.4" x2="277.6" y2="762.9" stroke="#555" stroke-width="0.8"/>
<line x1="273.4" y1="738.4" x2="281.8" y2="738.4" stroke="#555" stroke-width="0.8"/>
<line x1="273.4" y1="762.9" x2="281.8" y2="762.9" stroke="#555" stroke-width="0.8"/>
<line x1="308.0" y1="756.1" x2="308.0" y2="775.3" stroke="#555" stroke-width="0.8"/>
<line x1="303.8" y1="756.1" x2="312.2" y2="756.1" stroke="#555" stroke-width="0.8"/>
<line x1="303.8" y1="775.3" x2="312.2" y2="775.3" stroke="#555" stroke-width="0.8"/>
<line x1="338.4" y1="743.0" x2="338.4" y2="768.3" stroke="#555" stroke-width="0.8"/>
<line x1="334.2" y1="743.0" x2="342.6" y2="743.0" stroke="#555" stroke-width="0.8"/>
<line x1="334.2" y1="768.3" x2="342.6" y2="768.3" stroke="#555" stroke-width="0.8"/>
<line x1="368.3" y1="739.5" x2="368.3" y2="757.3" stroke="#555" stroke-width="0.8"/>
<line x1="364.1" y1="739.5" x2="372.5" y2="739.5" stroke="#555" stroke-width="0.8"/>
<line x1="364.1" y1="757.3" x2="372.5" y2="757.3" stroke="#555" stroke-width="0.8"/>
<line x1="398.5" y1="772.2" x2="398.5" y2="784.6" stroke="#555" stroke-width="0.8"/>
<line x1="394.3" y1="772.2" x2="402.7" y2="772.2" stroke="#555" stroke-width="0.8"/>
<line x1="394.3" y1="784.6" x2="402.7" y2="784.6" stroke="#555" stroke-width="0.8"/>
<line x1="428.6" y1="753.1" x2="428.6" y2="777.6" stroke="#555" stroke-width="0.8"/>
<line x1="424.4" y1="753.1" x2="432.8" y2="753.1" stroke="#555" stroke-width="0.8"/>
<line x1="424.4" y1="777.6" x2="432.8" y2="777.6" stroke="#555" stroke-width="0.8"/>
<line x1="459.0" y1="752.6" x2="459.0" y2="766.6" stroke="#555" stroke-width="0.8"/>
<line x1="454.8" y1="752.6" x2="463.2" y2="752.6" stroke="#555" stroke-width="0.8"/>
<line x1="454.8" y1="766.6" x2="463.2" y2="766.6" stroke="#555" stroke-width="0.8"/>
<line x1="489.5" y1="740.2" x2="489.5" y2="754.2" stroke="#555" stroke-width="0.8"/>
<line x1="485.3" y1="740.2" x2="493.7" y2="740.2" stroke="#555" stroke-width="0.8"/>
<line x1="485.3" y1="754.2" x2="493.7" y2="754.2" stroke="#555" stroke-width="0.8"/>
<polyline points="187.1,765.2 217.5,757.3 247.6,758.4 277.6,750.3 308.0,765.5 338.4,755.4 368.3,747.9 398.5,778.8 428.6,765.2 459.0,759.6 489.5,747.2" fill="none" stroke="#222" stroke-width="1.1"/>
<circle cx="187.1" cy="765.2" r="4.6" fill="#d2d2d2" stroke="#2e2e2e" stroke-width="0.7"/>
<circle cx="217.5" cy="757.3" r="4.6" fill="#d2d2d2" stroke="#2e2e2e" stroke-width="0.7"/>
<circle cx="247.6" cy="758.4" r="4.6" fill="#d2d2d2" stroke="#2e2e2e" stroke-width="0.7"/>
<circle cx="277.6" cy="750.3" r="4.6" fill="#d2d2d2" stroke="#2e2e2e" stroke-width="0.7"/>
<circle cx="308.0" cy="765.5" r="4.6" fill="#d2d2d2" stroke="#2e2e2e" stroke-width="0.7"/>
<circle cx="338.4" cy="755.4" r="4.6" fill="#d2d2d2" stroke="#2e2e2e" stroke-width="0.7"/>
<circle cx="368.3" cy="747.9" r="4.6" fill="#d2d2d2" stroke="#2e2e2e" stroke-width="0.7"/>
<circle cx="398.5" cy="778.8" r="4.6" fill="#d2d2d2" stroke="#2e2e2e" stroke-width="0.7"/>
<circle cx="428.6" cy="765.2" r="4.6" fill="#d2d2d2" stroke="#2e2e2e" stroke-width="0.7"/>
<circle cx="459.0" cy="759.6" r="4.6" fill="#d2d2d2" stroke="#2e2e2e" stroke-width="0.7"/>
<circle cx="489.5" cy="747.2" r="4.6" fill="#d2d2d2" stroke="#2e2e2e" stroke-width="0.7"/>
<line x1="187.1" y1="810.6" x2="187.1" y2="825.7" stroke="#555" stroke-width="0.8"/>
<line x1="182.9" y1="810.6" x2="191.3" y2="810.6" stroke="#555" stroke-width="0.8"/>
<line x1="182.9" y1="825.7" x2="191.3" y2="825.7" stroke="#555" stroke-width="0.8"/>
<line x1="217.5" y1="814.5" x2="217.5" y2="828.0" stroke="#555" stroke-width="0.8"/>
<line x1="213.3" y1="814.5" x2="221.7" y2="814.5" stroke="#555" stroke-width="0.8"/>
<line x1="213.3" y1="828.0" x2="221.7" y2="828.0" stroke="#555" stroke-width="0.8"/>
<line x1="247.6" y1="805.5" x2="247.6" y2="827.0" stroke="#555" stroke-width="0.8"/>
<line x1="243.4" y1="805.5" x2="251.8" y2="805.5" stroke="#555" stroke-width="0.8"/>
<line x1="243.4" y1="827.0" x2="251.8" y2="827.0" stroke="#555" stroke-width="0.8"/>
<line x1="277.6" y1="822.5" x2="277.6" y2="837.3" stroke="#555" stroke-width="0.8"/>
<line x1="273.4" y1="822.5" x2="281.8" y2="822.5" stroke="#555" stroke-width="0.8"/>
<line x1="273.4" y1="837.3" x2="281.8" y2="837.3" stroke="#555" stroke-width="0.8"/>
<line x1="308.0" y1="825.7" x2="308.0" y2="840.1" stroke="#555" stroke-width="0.8"/>
<line x1="303.8" y1="825.7" x2="312.2" y2="825.7" stroke="#555" stroke-width="0.8"/>
<line x1="303.8" y1="840.1" x2="312.2" y2="840.1" stroke="#555" stroke-width="0.8"/>
<line x1="338.4" y1="836.3" x2="338.4" y2="852.0" stroke="#555" stroke-width="0.8"/>
<line x1="334.2" y1="836.3" x2="342.6" y2="836.3" stroke="#555" stroke-width="0.8"/>
<line x1="334.2" y1="852.0" x2="342.6" y2="852.0" stroke="#555" stroke-width="0.8"/>
<line x1="368.3" y1="825.0" x2="368.3" y2="839.2" stroke="#555" stroke-width="0.8"/>
<line x1="364.1" y1="825.0" x2="372.5" y2="825.0" stroke="#555" stroke-width="0.8"/>
<line x1="364.1" y1="839.2" x2="372.5" y2="839.2" stroke="#555" stroke-width="0.8"/>
<line x1="398.5" y1="825.7" x2="398.5" y2="841.1" stroke="#555" stroke-width="0.8"/>
<line x1="394.3" y1="825.7" x2="402.7" y2="825.7" stroke="#555" stroke-width="0.8"/>
<line x1="394.3" y1="841.1" x2="402.7" y2="841.1" stroke="#555" stroke-width="0.8"/>
<line x1="428.6" y1="824.1" x2="428.6" y2="842.7" stroke="#555" stroke-width="0.8"/>
<line x1="424.4" y1="824.1" x2="432.8" y2="824.1" stroke="#555" stroke-width="0.8"/>
<line x1="424.4" y1="842.7" x2="432.8" y2="842.7" stroke="#555" stroke-width="0.8"/>
<line x1="459.0" y1="832.1" x2="459.0" y2="848.8" stroke="#555" stroke-width="0.8"/>
<line x1="454.8" y1="832.1" x2="463.2" y2="832.1" stroke="#555" stroke-width="0.8"/>
<line x1="454.8" y1="848.8" x2="463.2" y2="848.8" stroke="#555" stroke-width="0.8"/>
<line x1="489.5" y1="819.9" x2="489.5" y2="833.7" stroke="#555" stroke-width="0.8"/>
<line x1="485.3" y1="819.9" x2="493.7" y2="819.9" stroke="#555" stroke-width="0.8"/>
<line x1="485.3" y1="833.7" x2="493.7" y2="833.7" stroke="#555" stroke-width="0.8"/>
<polyline points="187.1,818.3 217.5,821.5 247.6,816.0 277.6,830.5 308.0,833.1 338.4,844.3 368.3,832.1 398.5,833.4 428.6,833.7 459.0,840.8 489.5,827.3" fill="none" stroke="#f25a5a" stroke-width="1.1"/>
<polygon points="187.1,813.1 182.1,822.6 192.1,822.6" fill="#f53f3f" stroke="#2e2e2e" stroke-width="0.7" stroke-linejoin="miter"/>
<polygon points="217.5,816.3 212.5,825.8 222.5,825.8" fill="#f53f3f" stroke="#2e2e2e" stroke-width="0.7" stroke-linejoin="miter"/>
<polygon points="247.6,810.8 242.6,820.3 252.6,820.3" fill="#f53f3f" stroke="#2e2e2e" stroke-width="0.7" stroke-linejoin="miter"/>
<polygon points="277.6,825.3 272.6,834.8 282.6,834.8" fill="#f53f3f" stroke="#2e2e2e" stroke-width="0.7" stroke-linejoin="miter"/>
<polygon points="308.0,827.9 303.0,837.4 313.0,837.4" fill="#f53f3f" stroke="#2e2e2e" stroke-width="0.7" stroke-linejoin="miter"/>
<polygon points="338.4,839.1 333.4,848.6 343.4,848.6" fill="#f53f3f" stroke="#2e2e2e" stroke-width="0.7" stroke-linejoin="miter"/>
<polygon points="368.3,826.9 363.3,836.4 373.3,836.4" fill="#f53f3f" stroke="#2e2e2e" stroke-width="0.7" stroke-linejoin="miter"/>
<polygon points="398.5,828.2 393.5,837.7 403.5,837.7" fill="#f53f3f" stroke="#2e2e2e" stroke-width="0.7" stroke-linejoin="miter"/>
<polygon points="428.6,828.5 423.6,838.0 433.6,838.0" fill="#f53f3f" stroke="#2e2e2e" stroke-width="0.7" stroke-linejoin="miter"/>
<polygon points="459.0,835.6 454.0,845.1 464.0,845.1" fill="#f53f3f" stroke="#2e2e2e" stroke-width="0.7" stroke-linejoin="miter"/>
<polygon points="489.5,822.1 484.5,831.6 494.5,831.6" fill="#f53f3f" stroke="#2e2e2e" stroke-width="0.7" stroke-linejoin="miter"/>
<text x="196.0" y="738.4" font-family="Liberation Sans" font-size="8.8" text-anchor="middle" fill="#1e1e1e"><tspan font-style="italic">P</tspan> = 0.0057</text>
<polygon points="184.25,748.40 184.98,750.19 186.91,750.33 185.44,751.59 185.90,753.47 184.25,752.45 182.60,753.47 183.06,751.59 181.59,750.33 183.52,750.19" fill="#1e1e1e"/>
<polygon points="189.95,748.40 190.68,750.19 192.61,750.33 191.14,751.59 191.60,753.47 189.95,752.45 188.30,753.47 188.76,751.59 187.29,750.33 189.22,750.19" fill="#1e1e1e"/>
<text x="218.3" y="788.1" font-family="Liberation Sans" font-size="8.8" text-anchor="middle" fill="#1e1e1e"><tspan font-style="italic">P</tspan> = 0.0013</text>
<polygon points="211.80,773.60 212.53,775.39 214.46,775.53 212.99,776.79 213.45,778.67 211.80,777.65 210.15,778.67 210.61,776.79 209.14,775.53 211.07,775.39" fill="#1e1e1e"/>
<polygon points="217.50,773.60 218.23,775.39 220.16,775.53 218.69,776.79 219.15,778.67 217.50,777.65 215.85,778.67 216.31,776.79 214.84,775.53 216.77,775.39" fill="#1e1e1e"/>
<polygon points="223.20,773.60 223.93,775.39 225.86,775.53 224.39,776.79 224.85,778.67 223.20,777.65 221.55,778.67 222.01,776.79 220.54,775.53 222.47,775.39" fill="#1e1e1e"/>
<text x="245.2" y="738.4" font-family="Liberation Sans" font-size="8.8" text-anchor="middle" fill="#1e1e1e"><tspan font-style="italic">P</tspan> = 0.0058</text>
<polygon points="244.95,743.50 245.68,745.29 247.61,745.43 246.14,746.69 246.60,748.57 244.95,747.55 243.30,748.57 243.76,746.69 242.29,745.43 244.22,745.29" fill="#1e1e1e"/>
<polygon points="250.65,743.50 251.38,745.29 253.31,745.43 251.84,746.69 252.30,748.57 250.65,747.55 249.00,748.57 249.46,746.69 247.99,745.43 249.92,745.29" fill="#1e1e1e"/>
<text x="279.0" y="782.7" font-family="Liberation Sans" font-size="8.8" text-anchor="middle" fill="#1e1e1e"><tspan font-style="italic">P</tspan> = 0.0014</text>
<polygon points="271.80,769.30 272.53,771.09 274.46,771.23 272.99,772.49 273.45,774.37 271.80,773.35 270.15,774.37 270.61,772.49 269.14,771.23 271.07,771.09" fill="#1e1e1e"/>
<polygon points="277.50,769.30 278.23,771.09 280.16,771.23 278.69,772.49 279.15,774.37 277.50,773.35 275.85,774.37 276.31,772.49 274.84,771.23 276.77,771.09" fill="#1e1e1e"/>
<polygon points="283.20,769.30 283.93,771.09 285.86,771.23 284.39,772.49 284.85,774.37 283.20,773.35 281.55,774.37 282.01,772.49 280.54,771.23 282.47,771.09" fill="#1e1e1e"/>
<text x="306.7" y="744.4" font-family="Liberation Sans" font-size="8.8" text-anchor="middle" fill="#1e1e1e"><tspan font-style="italic">P</tspan> = 0.0015</text>
<polygon points="302.20,748.70 302.93,750.49 304.86,750.63 303.39,751.89 303.85,753.77 302.20,752.75 300.55,753.77 301.01,751.89 299.54,750.63 301.47,750.49" fill="#1e1e1e"/>
<polygon points="307.90,748.70 308.63,750.49 310.56,750.63 309.09,751.89 309.55,753.77 307.90,752.75 306.25,753.77 306.71,751.89 305.24,750.63 307.17,750.49" fill="#1e1e1e"/>
<polygon points="313.60,748.70 314.33,750.49 316.26,750.63 314.79,751.89 315.25,753.77 313.60,752.75 311.95,753.77 312.41,751.89 310.94,750.63 312.87,750.49" fill="#1e1e1e"/>
<text x="340.0" y="788.1" font-family="Liberation Sans" font-size="8.8" text-anchor="middle" fill="#1e1e1e"><tspan font-style="italic">P</tspan> = 0.0011</text>
<polygon points="332.60,775.10 333.33,776.89 335.26,777.03 333.79,778.29 334.25,780.17 332.60,779.15 330.95,780.17 331.41,778.29 329.94,777.03 331.87,776.89" fill="#1e1e1e"/>
<polygon points="338.30,775.10 339.03,776.89 340.96,777.03 339.49,778.29 339.95,780.17 338.30,779.15 336.65,780.17 337.11,778.29 335.64,777.03 337.57,776.89" fill="#1e1e1e"/>
<polygon points="344.00,775.10 344.73,776.89 346.66,777.03 345.19,778.29 345.65,780.17 344.00,779.15 342.35,780.17 342.81,778.29 341.34,777.03 343.27,776.89" fill="#1e1e1e"/>
<text x="367.8" y="726.7" font-family="Liberation Sans" font-size="8.8" text-anchor="middle" fill="#1e1e1e"><tspan font-style="italic">P</tspan> = 0.0003</text>
<polygon points="362.50,730.70 363.23,732.49 365.16,732.63 363.69,733.89 364.15,735.77 362.50,734.75 360.85,735.77 361.31,733.89 359.84,732.63 361.77,732.49" fill="#1e1e1e"/>
<polygon points="368.20,730.70 368.93,732.49 370.86,732.63 369.39,733.89 369.85,735.77 368.20,734.75 366.55,735.77 367.01,733.89 365.54,732.63 367.47,732.49" fill="#1e1e1e"/>
<polygon points="373.90,730.70 374.63,732.49 376.56,732.63 375.09,733.89 375.55,735.77 373.90,734.75 372.25,735.77 372.71,733.89 371.24,732.63 373.17,732.49" fill="#1e1e1e"/>
<text x="399.0" y="804.5" font-family="Liberation Sans" font-size="8.8" text-anchor="middle" fill="#1e1e1e"><tspan font-style="italic">P</tspan> = 0.0019</text>
<polygon points="392.80,790.30 393.53,792.09 395.46,792.23 393.99,793.49 394.45,795.37 392.80,794.35 391.15,795.37 391.61,793.49 390.14,792.23 392.07,792.09" fill="#1e1e1e"/>
<polygon points="398.50,790.30 399.23,792.09 401.16,792.23 399.69,793.49 400.15,795.37 398.50,794.35 396.85,795.37 397.31,793.49 395.84,792.23 397.77,792.09" fill="#1e1e1e"/>
<polygon points="404.20,790.30 404.93,792.09 406.86,792.23 405.39,793.49 405.85,795.37 404.20,794.35 402.55,795.37 403.01,793.49 401.54,792.23 403.47,792.09" fill="#1e1e1e"/>
<text x="426.9" y="742.6" font-family="Liberation Sans" font-size="8.8" text-anchor="middle" fill="#1e1e1e"><tspan font-style="italic">P</tspan> = 0.0047</text>
<polygon points="423.00,745.90 423.73,747.69 425.66,747.83 424.19,749.09 424.65,750.97 423.00,749.95 421.35,750.97 421.81,749.09 420.34,747.83 422.27,747.69" fill="#1e1e1e"/>
<polygon points="428.70,745.90 429.43,747.69 431.36,747.83 429.89,749.09 430.35,750.97 428.70,749.95 427.05,750.97 427.51,749.09 426.04,747.83 427.97,747.69" fill="#1e1e1e"/>
<polygon points="434.40,745.90 435.13,747.69 437.06,747.83 435.59,749.09 436.05,750.97 434.40,749.95 432.75,750.97 433.21,749.09 431.74,747.83 433.67,747.69" fill="#1e1e1e"/>
<text x="458.6" y="788.1" font-family="Liberation Sans" font-size="8.8" text-anchor="middle" fill="#1e1e1e"><tspan font-style="italic">P</tspan> = 0.0003</text>
<polygon points="453.40,773.90 454.13,775.69 456.06,775.83 454.59,777.09 455.05,778.97 453.40,777.95 451.75,778.97 452.21,777.09 450.74,775.83 452.67,775.69" fill="#1e1e1e"/>
<polygon points="459.10,773.90 459.83,775.69 461.76,775.83 460.29,777.09 460.75,778.97 459.10,777.95 457.45,778.97 457.91,777.09 456.44,775.83 458.37,775.69" fill="#1e1e1e"/>
<polygon points="464.80,773.90 465.53,775.69 467.46,775.83 465.99,777.09 466.45,778.97 464.80,777.95 463.15,778.97 463.61,777.09 462.14,775.83 464.07,775.69" fill="#1e1e1e"/>
<text x="487.1" y="730.2" font-family="Liberation Sans" font-size="8.8" text-anchor="middle" fill="#1e1e1e"><tspan font-style="italic">P</tspan> = 0.0002</text>
<polygon points="483.80,732.30 484.53,734.09 486.46,734.23 484.99,735.49 485.45,737.37 483.80,736.35 482.15,737.37 482.61,735.49 481.14,734.23 483.07,734.09" fill="#1e1e1e"/>
<polygon points="489.50,732.30 490.23,734.09 492.16,734.23 490.69,735.49 491.15,737.37 489.50,736.35 487.85,737.37 488.31,735.49 486.84,734.23 488.77,734.09" fill="#1e1e1e"/>
<polygon points="495.20,732.30 495.93,734.09 497.86,734.23 496.39,735.49 496.85,737.37 495.20,736.35 493.55,737.37 494.01,735.49 492.54,734.23 494.47,734.09" fill="#1e1e1e"/>
<line x1="525.7" y1="714.3" x2="543.2" y2="714.3" stroke="#222" stroke-width="1.0"/>
<circle cx="534.5" cy="714.3" r="5.0" fill="#d2d2d2" stroke="#2e2e2e" stroke-width="0.7"/>
<text x="550.0" y="717.8" font-family="Liberation Sans" font-size="10.5" text-anchor="start" fill="#1e1e1e" font-weight="normal" >– NG patch</text>
<line x1="525.7" y1="736.7" x2="543.2" y2="736.7" stroke="#f25a5a" stroke-width="1.0"/>
<polygon points="534.5,731.9 529.5,740.7 539.5,740.7" fill="#f53f3f" stroke="#2e2e2e" stroke-width="0.7" stroke-linejoin="miter"/>
<text x="550.0" y="740.5" font-family="Liberation Sans" font-size="10.5" text-anchor="start" fill="#1e1e1e" font-weight="normal" >+ NG patch</text>
</svg>
</body></html>
